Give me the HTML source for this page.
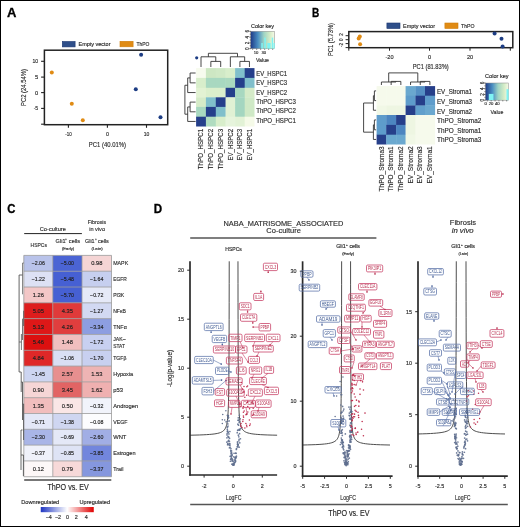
<!DOCTYPE html>
<html><head><meta charset="utf-8"><style>
html,body{margin:0;padding:0;background:#fff;}
svg{display:block;will-change:transform;}
text{font-family:"Liberation Sans", sans-serif;}
</style></head><body>
<svg width="520" height="527" viewBox="0 0 520 527">
<rect x="0" y="0" width="520" height="527" fill="#fff"/>
<text x="6.90" y="17.00" font-size="12.29" font-weight="bold" fill="#000" stroke="#000" stroke-width="0.3" textLength="9.40" lengthAdjust="spacingAndGlyphs">A</text>
<text x="312.10" y="17.00" font-size="11.93" font-weight="bold" fill="#000" stroke="#000" stroke-width="0.3" textLength="7.30" lengthAdjust="spacingAndGlyphs">B</text>
<text x="7.20" y="212.90" font-size="11.86" font-weight="bold" fill="#000" stroke="#000" stroke-width="0.3" textLength="8.20" lengthAdjust="spacingAndGlyphs">C</text>
<text x="153.80" y="212.90" font-size="12.14" font-weight="bold" fill="#000" stroke="#000" stroke-width="0.3" textLength="8.40" lengthAdjust="spacingAndGlyphs">D</text>
<rect x="62.30" y="41.50" width="12.80" height="5.40" fill="#2f4f8a" stroke="#1b3670" stroke-width="0.6"/>
<text x="78.50" y="46.02" font-size="5.2" fill="#2b2b2b" textLength="32.00" lengthAdjust="spacingAndGlyphs" stroke="#2b2b2b" stroke-width="0.15">Empty vector</text>
<rect x="120.00" y="41.30" width="13.10" height="5.50" fill="#e08b14" stroke="#d07e0a" stroke-width="0.6"/>
<text x="136.50" y="45.82" font-size="5.2" fill="#2b2b2b" textLength="13.00" lengthAdjust="spacingAndGlyphs" stroke="#2b2b2b" stroke-width="0.15">ThPO</text>
<rect x="44.40" y="50.20" width="123.30" height="74.50" fill="none" stroke="#222" stroke-width="1.5"/>
<line x1="41.10" y1="61.30" x2="44.40" y2="61.30" stroke="#222" stroke-width="1.1"/>
<text x="32.50" y="63.26" font-size="5.6" fill="#2b2b2b" textLength="5.70" lengthAdjust="spacingAndGlyphs" stroke="#2b2b2b" stroke-width="0.15">10</text>
<line x1="41.10" y1="77.10" x2="44.40" y2="77.10" stroke="#222" stroke-width="1.1"/>
<text x="35.00" y="79.06" font-size="5.6" fill="#2b2b2b" textLength="3.20" lengthAdjust="spacingAndGlyphs" stroke="#2b2b2b" stroke-width="0.15">5</text>
<line x1="41.10" y1="92.60" x2="44.40" y2="92.60" stroke="#222" stroke-width="1.1"/>
<text x="35.00" y="94.56" font-size="5.6" fill="#2b2b2b" textLength="3.20" lengthAdjust="spacingAndGlyphs" stroke="#2b2b2b" stroke-width="0.15">0</text>
<line x1="41.10" y1="108.40" x2="44.40" y2="108.40" stroke="#222" stroke-width="1.1"/>
<text x="33.70" y="110.36" font-size="5.6" fill="#2b2b2b" textLength="4.50" lengthAdjust="spacingAndGlyphs" stroke="#2b2b2b" stroke-width="0.15">-5</text>
<line x1="41.10" y1="124.20" x2="44.40" y2="124.20" stroke="#222" stroke-width="1.1"/>
<line x1="68.40" y1="124.70" x2="68.40" y2="127.80" stroke="#222" stroke-width="1.1"/>
<text x="65.15" y="135.76" font-size="5.6" fill="#2b2b2b" textLength="6.50" lengthAdjust="spacingAndGlyphs" stroke="#2b2b2b" stroke-width="0.15">-10</text>
<line x1="107.40" y1="124.70" x2="107.40" y2="127.80" stroke="#222" stroke-width="1.1"/>
<text x="105.90" y="135.76" font-size="5.6" fill="#2b2b2b" textLength="3.00" lengthAdjust="spacingAndGlyphs" stroke="#2b2b2b" stroke-width="0.15">0</text>
<line x1="146.50" y1="124.70" x2="146.50" y2="127.80" stroke="#222" stroke-width="1.1"/>
<text x="143.70" y="135.76" font-size="5.6" fill="#2b2b2b" textLength="5.60" lengthAdjust="spacingAndGlyphs" stroke="#2b2b2b" stroke-width="0.15">10</text>
<text x="88.80" y="146.52" font-size="7.2" fill="#2b2b2b" textLength="37.20" lengthAdjust="spacingAndGlyphs" stroke="#2b2b2b" stroke-width="0.15">PC1 (40.01%)</text>
<text x="0" y="2.52" font-size="7.2" fill="#2b2b2b" text-anchor="middle" textLength="37.00" lengthAdjust="spacingAndGlyphs" stroke="#2b2b2b" stroke-width="0.15" transform="translate(23.30 87.50) rotate(-90)">PC2 (24.54%)</text>
<circle cx="51.80" cy="72.40" r="2.0" fill="#e08b14"/>
<circle cx="71.80" cy="103.80" r="2.0" fill="#e08b14"/>
<circle cx="82.80" cy="120.20" r="2.0" fill="#e08b14"/>
<circle cx="141.10" cy="54.70" r="2.0" fill="#1d3d84"/>
<circle cx="135.80" cy="89.20" r="2.0" fill="#1d3d84"/>
<circle cx="160.50" cy="117.30" r="2.0" fill="#1d3d84"/>
<rect x="196.10" y="68.10" width="10.10" height="10.10" fill="#f7fbee"/>
<rect x="205.90" y="68.10" width="10.20" height="10.10" fill="#cde7c3"/>
<rect x="215.80" y="68.10" width="10.10" height="10.10" fill="#d0e9c6"/>
<rect x="225.60" y="68.10" width="9.80" height="10.10" fill="#d8eecb"/>
<rect x="235.10" y="68.10" width="9.90" height="10.10" fill="#80bfcb"/>
<rect x="244.70" y="68.10" width="9.80" height="10.10" fill="#253f8b"/>
<rect x="196.10" y="77.90" width="10.10" height="10.20" fill="#d8eecb"/>
<rect x="205.90" y="77.90" width="10.20" height="10.20" fill="#a8d8c0"/>
<rect x="215.80" y="77.90" width="10.10" height="10.20" fill="#a8d8c0"/>
<rect x="225.60" y="77.90" width="9.80" height="10.20" fill="#abd9bf"/>
<rect x="235.10" y="77.90" width="9.90" height="10.20" fill="#253f8b"/>
<rect x="244.70" y="77.90" width="9.80" height="10.20" fill="#80bfcb"/>
<rect x="196.10" y="87.80" width="10.10" height="9.80" fill="#e2f2d3"/>
<rect x="205.90" y="87.80" width="10.20" height="9.80" fill="#dbefcc"/>
<rect x="215.80" y="87.80" width="10.10" height="9.80" fill="#dbefcc"/>
<rect x="225.60" y="87.80" width="9.80" height="9.80" fill="#253f8b"/>
<rect x="235.10" y="87.80" width="9.90" height="9.80" fill="#a8d8c0"/>
<rect x="244.70" y="87.80" width="9.80" height="9.80" fill="#d5ebc8"/>
<rect x="196.10" y="97.30" width="10.10" height="9.90" fill="#d5ebc8"/>
<rect x="205.90" y="97.30" width="10.20" height="9.90" fill="#80bfcb"/>
<rect x="215.80" y="97.30" width="10.10" height="9.90" fill="#253f8b"/>
<rect x="225.60" y="97.30" width="9.80" height="9.90" fill="#e0f1d4"/>
<rect x="235.10" y="97.30" width="9.90" height="9.90" fill="#a4d6c0"/>
<rect x="244.70" y="97.30" width="9.80" height="9.90" fill="#cfe9c6"/>
<rect x="196.10" y="106.90" width="10.10" height="10.10" fill="#a8d8c0"/>
<rect x="205.90" y="106.90" width="10.20" height="10.10" fill="#253f8b"/>
<rect x="215.80" y="106.90" width="10.10" height="10.10" fill="#80bfcb"/>
<rect x="225.60" y="106.90" width="9.80" height="10.10" fill="#e0f1d4"/>
<rect x="235.10" y="106.90" width="9.90" height="10.10" fill="#a4d6c0"/>
<rect x="244.70" y="106.90" width="9.80" height="10.10" fill="#cfe9c6"/>
<rect x="196.10" y="116.70" width="10.10" height="9.80" fill="#253f8b"/>
<rect x="205.90" y="116.70" width="10.20" height="9.80" fill="#b0dcc0"/>
<rect x="215.80" y="116.70" width="10.10" height="9.80" fill="#d8eecb"/>
<rect x="225.60" y="116.70" width="9.80" height="9.80" fill="#e6f4dc"/>
<rect x="235.10" y="116.70" width="9.90" height="9.80" fill="#e2f2d6"/>
<rect x="244.70" y="116.70" width="9.80" height="9.80" fill="#f5fae8"/>
<path d="M210.85 67.0 V61.4 H220.70 V67.0" stroke="#333" stroke-width="0.9" fill="none"/>
<path d="M239.90 67.0 V61.4 H249.45 V67.0" stroke="#333" stroke-width="0.9" fill="none"/>
<path d="M201.00 67.0 V56.8 H215.78 V61.4" stroke="#333" stroke-width="0.9" fill="none"/>
<path d="M230.35 67.0 V56.8 H244.67 V61.4" stroke="#333" stroke-width="0.9" fill="none"/>
<path d="M208.39 56.8 V53.3 H237.51 V56.8" stroke="#333" stroke-width="0.9" fill="none"/>
<path d="M195.6 73.00 H190.1 V82.85 H195.6" stroke="#333" stroke-width="0.9" fill="none"/>
<path d="M195.6 102.10 H190.1 V111.80 H195.6" stroke="#333" stroke-width="0.9" fill="none"/>
<path d="M190.1 77.92 H187.7 V92.55 H195.6" stroke="#333" stroke-width="0.9" fill="none"/>
<path d="M190.1 106.95 H187.7 V121.45 H195.6" stroke="#333" stroke-width="0.9" fill="none"/>
<path d="M187.7 85.24 H184.9 V114.20 H187.7" stroke="#333" stroke-width="0.9" fill="none"/>
<circle cx="196.70" cy="57.80" r="1.6" fill="#1d3d84"/>
<text x="256.20" y="75.50" font-size="6.3" fill="#2b2b2b" textLength="30.90" lengthAdjust="spacingAndGlyphs" stroke="#2b2b2b" stroke-width="0.15">EV_HSPC1</text>
<text x="256.20" y="85.00" font-size="6.3" fill="#2b2b2b" textLength="30.90" lengthAdjust="spacingAndGlyphs" stroke="#2b2b2b" stroke-width="0.15">EV_HSPC3</text>
<text x="256.20" y="94.50" font-size="6.3" fill="#2b2b2b" textLength="30.90" lengthAdjust="spacingAndGlyphs" stroke="#2b2b2b" stroke-width="0.15">EV_HSPC2</text>
<text x="256.20" y="104.00" font-size="6.3" fill="#2b2b2b" textLength="39.60" lengthAdjust="spacingAndGlyphs" stroke="#2b2b2b" stroke-width="0.15">ThPO_HSPC3</text>
<text x="256.20" y="113.30" font-size="6.3" fill="#2b2b2b" textLength="39.60" lengthAdjust="spacingAndGlyphs" stroke="#2b2b2b" stroke-width="0.15">ThPO_HSPC2</text>
<text x="256.20" y="123.00" font-size="6.3" fill="#2b2b2b" textLength="39.60" lengthAdjust="spacingAndGlyphs" stroke="#2b2b2b" stroke-width="0.15">ThPO_HSPC1</text>
<text x="0" y="2.20" font-size="6.3" fill="#2b2b2b" text-anchor="middle" textLength="40.30" lengthAdjust="spacingAndGlyphs" stroke="#2b2b2b" stroke-width="0.15" transform="translate(201.00 149.05) rotate(-90)">ThPO_HSPC1</text>
<text x="0" y="2.20" font-size="6.3" fill="#2b2b2b" text-anchor="middle" textLength="40.30" lengthAdjust="spacingAndGlyphs" stroke="#2b2b2b" stroke-width="0.15" transform="translate(210.85 149.05) rotate(-90)">ThPO_HSPC2</text>
<text x="0" y="2.20" font-size="6.3" fill="#2b2b2b" text-anchor="middle" textLength="40.30" lengthAdjust="spacingAndGlyphs" stroke="#2b2b2b" stroke-width="0.15" transform="translate(220.70 149.05) rotate(-90)">ThPO_HSPC3</text>
<text x="0" y="2.20" font-size="6.3" fill="#2b2b2b" text-anchor="middle" textLength="31.60" lengthAdjust="spacingAndGlyphs" stroke="#2b2b2b" stroke-width="0.15" transform="translate(230.35 144.70) rotate(-90)">EV_HSPC2</text>
<text x="0" y="2.20" font-size="6.3" fill="#2b2b2b" text-anchor="middle" textLength="31.60" lengthAdjust="spacingAndGlyphs" stroke="#2b2b2b" stroke-width="0.15" transform="translate(239.90 144.70) rotate(-90)">EV_HSPC3</text>
<text x="0" y="2.20" font-size="6.3" fill="#2b2b2b" text-anchor="middle" textLength="31.60" lengthAdjust="spacingAndGlyphs" stroke="#2b2b2b" stroke-width="0.15" transform="translate(249.45 144.70) rotate(-90)">EV_HSPC1</text>
<defs><linearGradient id="g250" x1="0" x2="1" y1="0" y2="0"><stop offset="0" stop-color="#1e3a86"/><stop offset="0.3" stop-color="#4a8ec2"/><stop offset="0.55" stop-color="#9fd4c4"/><stop offset="0.8" stop-color="#d4ecc6"/><stop offset="1" stop-color="#f7fbe8"/></linearGradient></defs>
<rect x="250.70" y="31.30" width="24.00" height="17.40" fill="url(#g250)" stroke="#888" stroke-width="0.5"/>
<rect x="261.30" y="43.00" width="1.50" height="5.70" fill="#7ff3f3"/>
<rect x="264.30" y="37.60" width="1.50" height="11.10" fill="#7ff3f3"/>
<rect x="267.30" y="43.00" width="3.30" height="5.70" fill="#7ff3f3"/>
<rect x="271.70" y="37.60" width="1.50" height="11.10" fill="#7ff3f3"/>
<rect x="273.50" y="43.00" width="1.20" height="5.70" fill="#7ff3f3"/>
<line x1="249.30" y1="48.70" x2="250.70" y2="48.70" stroke="#222" stroke-width="0.7"/>
<line x1="249.80" y1="45.80" x2="250.70" y2="45.80" stroke="#222" stroke-width="0.7"/>
<line x1="249.30" y1="42.90" x2="250.70" y2="42.90" stroke="#222" stroke-width="0.7"/>
<line x1="249.80" y1="40.00" x2="250.70" y2="40.00" stroke="#222" stroke-width="0.7"/>
<line x1="249.30" y1="37.10" x2="250.70" y2="37.10" stroke="#222" stroke-width="0.7"/>
<line x1="249.80" y1="34.20" x2="250.70" y2="34.20" stroke="#222" stroke-width="0.7"/>
<line x1="249.30" y1="31.30" x2="250.70" y2="31.30" stroke="#222" stroke-width="0.7"/>
<text x="0" y="1.61" font-size="4.6" fill="#2b2b2b" text-anchor="middle" stroke="#2b2b2b" stroke-width="0.15" transform="translate(247.80 48.70) rotate(-90)">0</text>
<text x="0" y="1.61" font-size="4.6" fill="#2b2b2b" text-anchor="middle" stroke="#2b2b2b" stroke-width="0.15" transform="translate(247.80 42.90) rotate(-90)">2</text>
<text x="0" y="1.61" font-size="4.6" fill="#2b2b2b" text-anchor="middle" stroke="#2b2b2b" stroke-width="0.15" transform="translate(247.80 37.10) rotate(-90)">4</text>
<text x="0" y="1.61" font-size="4.6" fill="#2b2b2b" text-anchor="middle" stroke="#2b2b2b" stroke-width="0.15" transform="translate(247.80 31.30) rotate(-90)">6</text>
<line x1="252.70" y1="48.70" x2="252.70" y2="49.90" stroke="#333" stroke-width="0.6"/>
<line x1="256.70" y1="48.70" x2="256.70" y2="49.90" stroke="#333" stroke-width="0.6"/>
<line x1="260.70" y1="48.70" x2="260.70" y2="49.90" stroke="#333" stroke-width="0.6"/>
<line x1="264.70" y1="48.70" x2="264.70" y2="49.90" stroke="#333" stroke-width="0.6"/>
<line x1="268.70" y1="48.70" x2="268.70" y2="49.90" stroke="#333" stroke-width="0.6"/>
<line x1="272.70" y1="48.70" x2="272.70" y2="49.90" stroke="#333" stroke-width="0.6"/>
<text x="256.00" y="53.90" font-size="4.2" fill="#2b2b2b" text-anchor="middle" stroke="#2b2b2b" stroke-width="0.15">10</text>
<text x="263.80" y="53.90" font-size="4.2" fill="#2b2b2b" text-anchor="middle" stroke="#2b2b2b" stroke-width="0.15">30</text>
<text x="256.00" y="62.36" font-size="5.6" fill="#2b2b2b" textLength="13.00" lengthAdjust="spacingAndGlyphs" stroke="#2b2b2b" stroke-width="0.15">Value</text>
<text x="251.00" y="27.55" font-size="5.0" fill="#2b2b2b" textLength="23.00" lengthAdjust="spacingAndGlyphs" stroke="#2b2b2b" stroke-width="0.15">Color key</text>
<rect x="386.90" y="23.00" width="13.10" height="5.50" fill="#2f4f8a" stroke="#1b3670" stroke-width="0.6"/>
<text x="403.00" y="27.52" font-size="5.2" fill="#2b2b2b" textLength="32.00" lengthAdjust="spacingAndGlyphs" stroke="#2b2b2b" stroke-width="0.15">Empty vector</text>
<rect x="444.90" y="23.00" width="13.10" height="5.50" fill="#e08b14" stroke="#d07e0a" stroke-width="0.6"/>
<text x="461.00" y="27.52" font-size="5.2" fill="#2b2b2b" textLength="13.60" lengthAdjust="spacingAndGlyphs" stroke="#2b2b2b" stroke-width="0.15">ThPO</text>
<rect x="348.80" y="31.60" width="164.00" height="16.10" fill="none" stroke="#222" stroke-width="1.5"/>
<line x1="345.60" y1="35.70" x2="348.80" y2="35.70" stroke="#222" stroke-width="1.0"/>
<line x1="345.60" y1="39.70" x2="348.80" y2="39.70" stroke="#222" stroke-width="1.0"/>
<line x1="345.60" y1="43.60" x2="348.80" y2="43.60" stroke="#222" stroke-width="1.0"/>
<line x1="345.60" y1="47.60" x2="348.80" y2="47.60" stroke="#222" stroke-width="1.0"/>
<text x="0" y="1.57" font-size="4.5" fill="#2b2b2b" text-anchor="middle" stroke="#2b2b2b" stroke-width="0.15" transform="translate(341.00 34.40) rotate(-90)">2</text>
<text x="0" y="1.57" font-size="4.5" fill="#2b2b2b" text-anchor="middle" stroke="#2b2b2b" stroke-width="0.15" transform="translate(341.00 39.70) rotate(-90)">0</text>
<text x="0" y="1.57" font-size="4.5" fill="#2b2b2b" text-anchor="middle" stroke="#2b2b2b" stroke-width="0.15" transform="translate(341.00 45.00) rotate(-90)">-2</text>
<line x1="348.80" y1="47.70" x2="348.80" y2="50.70" stroke="#222" stroke-width="1.0"/>
<line x1="389.50" y1="47.70" x2="389.50" y2="50.70" stroke="#222" stroke-width="1.0"/>
<text x="389.50" y="58.80" font-size="5.6" fill="#2b2b2b" text-anchor="middle" stroke="#2b2b2b" stroke-width="0.15">-20</text>
<line x1="429.50" y1="47.70" x2="429.50" y2="50.70" stroke="#222" stroke-width="1.0"/>
<text x="429.50" y="58.80" font-size="5.6" fill="#2b2b2b" text-anchor="middle" stroke="#2b2b2b" stroke-width="0.15">0</text>
<line x1="470.00" y1="47.70" x2="470.00" y2="50.70" stroke="#222" stroke-width="1.0"/>
<text x="470.00" y="58.80" font-size="5.6" fill="#2b2b2b" text-anchor="middle" stroke="#2b2b2b" stroke-width="0.15">20</text>
<line x1="510.30" y1="47.70" x2="510.30" y2="50.70" stroke="#222" stroke-width="1.0"/>
<text x="412.70" y="69.22" font-size="7.2" fill="#2b2b2b" textLength="36.10" lengthAdjust="spacingAndGlyphs" stroke="#2b2b2b" stroke-width="0.15">PC1 (81.83%)</text>
<text x="0" y="2.52" font-size="7.2" fill="#2b2b2b" text-anchor="middle" textLength="33.00" lengthAdjust="spacingAndGlyphs" stroke="#2b2b2b" stroke-width="0.15" transform="translate(330.20 39.50) rotate(-90)">PC1 (5.73%)</text>
<circle cx="359.80" cy="36.50" r="2.0" fill="#e08b14"/>
<circle cx="358.70" cy="38.60" r="2.0" fill="#e08b14"/>
<circle cx="360.10" cy="44.30" r="2.0" fill="#e08b14"/>
<circle cx="494.60" cy="33.50" r="2.0" fill="#1d3d84"/>
<circle cx="501.50" cy="38.80" r="2.0" fill="#1d3d84"/>
<circle cx="502.60" cy="46.50" r="2.0" fill="#1d3d84"/>
<rect x="376.60" y="86.10" width="9.90" height="9.90" fill="#f6faec"/>
<rect x="386.20" y="86.10" width="10.20" height="9.90" fill="#f6faec"/>
<rect x="396.10" y="86.10" width="9.80" height="9.90" fill="#f6faec"/>
<rect x="405.60" y="86.10" width="10.20" height="9.90" fill="#6aa8cf"/>
<rect x="415.50" y="86.10" width="9.80" height="9.90" fill="#5590c4"/>
<rect x="425.00" y="86.10" width="10.10" height="9.90" fill="#263f8a"/>
<rect x="376.60" y="95.70" width="9.90" height="10.10" fill="#f6faec"/>
<rect x="386.20" y="95.70" width="10.20" height="10.10" fill="#f6faec"/>
<rect x="396.10" y="95.70" width="9.80" height="10.10" fill="#f6faec"/>
<rect x="405.60" y="95.70" width="10.20" height="10.10" fill="#5e9ccb"/>
<rect x="415.50" y="95.70" width="9.80" height="10.10" fill="#263f8a"/>
<rect x="425.00" y="95.70" width="10.10" height="10.10" fill="#5e9ccb"/>
<rect x="376.60" y="105.50" width="9.90" height="9.80" fill="#f1f8e6"/>
<rect x="386.20" y="105.50" width="10.20" height="9.80" fill="#eef6e2"/>
<rect x="396.10" y="105.50" width="9.80" height="9.80" fill="#eef6e2"/>
<rect x="405.60" y="105.50" width="10.20" height="9.80" fill="#263f8a"/>
<rect x="415.50" y="105.50" width="9.80" height="9.80" fill="#619fcc"/>
<rect x="425.00" y="105.50" width="10.10" height="9.80" fill="#6aa8cf"/>
<rect x="376.60" y="115.00" width="9.90" height="10.20" fill="#5e9ccb"/>
<rect x="386.20" y="115.00" width="10.20" height="10.20" fill="#4c85c0"/>
<rect x="396.10" y="115.00" width="9.80" height="10.20" fill="#263f8a"/>
<rect x="405.60" y="115.00" width="10.20" height="10.20" fill="#eef6e2"/>
<rect x="415.50" y="115.00" width="9.80" height="10.20" fill="#f6faec"/>
<rect x="425.00" y="115.00" width="10.10" height="10.20" fill="#f6faec"/>
<rect x="376.60" y="124.90" width="9.90" height="10.10" fill="#5e9ccb"/>
<rect x="386.20" y="124.90" width="10.20" height="10.10" fill="#263f8a"/>
<rect x="396.10" y="124.90" width="9.80" height="10.10" fill="#4c85c0"/>
<rect x="405.60" y="124.90" width="10.20" height="10.10" fill="#eef6e2"/>
<rect x="415.50" y="124.90" width="9.80" height="10.10" fill="#f6faec"/>
<rect x="425.00" y="124.90" width="10.10" height="10.10" fill="#f6faec"/>
<rect x="376.60" y="134.70" width="9.90" height="9.80" fill="#263f8a"/>
<rect x="386.20" y="134.70" width="10.20" height="9.80" fill="#6aa8cf"/>
<rect x="396.10" y="134.70" width="9.80" height="9.80" fill="#6aa8cf"/>
<rect x="405.60" y="134.70" width="10.20" height="9.80" fill="#f1f8e6"/>
<rect x="415.50" y="134.70" width="9.80" height="9.80" fill="#f6faec"/>
<rect x="425.00" y="134.70" width="10.10" height="9.80" fill="#f6faec"/>
<path d="M391.15 85.0 V81.4 H400.85 V85.0" stroke="#333" stroke-width="0.9" fill="none"/>
<path d="M420.25 85.0 V81.4 H429.90 V85.0" stroke="#333" stroke-width="0.9" fill="none"/>
<path d="M381.40 85.0 V82.0 H396.00 V81.4" stroke="#333" stroke-width="0.9" fill="none"/>
<path d="M410.55 85.0 V82.0 H425.07 V81.4" stroke="#333" stroke-width="0.9" fill="none"/>
<path d="M388.70 82.0 V72.9 H417.81 V82.0" stroke="#333" stroke-width="0.9" fill="none"/>
<path d="M376.1 90.90 H374.4 V100.60 H376.1" stroke="#333" stroke-width="0.9" fill="none"/>
<path d="M376.1 119.95 H374.4 V129.80 H376.1" stroke="#333" stroke-width="0.9" fill="none"/>
<path d="M376.1 110.25 H373.4 V95.75 H374.4" stroke="#333" stroke-width="0.9" fill="none"/>
<path d="M376.1 139.45 H373.4 V124.88 H374.4" stroke="#333" stroke-width="0.9" fill="none"/>
<path d="M373.4 103.00 H363.6 V132.16 H373.4" stroke="#333" stroke-width="0.9" fill="none"/>
<text x="437.00" y="94.20" font-size="6.3" fill="#2b2b2b" textLength="35.00" lengthAdjust="spacingAndGlyphs" stroke="#2b2b2b" stroke-width="0.15">EV_Stroma1</text>
<text x="437.00" y="104.20" font-size="6.3" fill="#2b2b2b" textLength="35.00" lengthAdjust="spacingAndGlyphs" stroke="#2b2b2b" stroke-width="0.15">EV_Stroma3</text>
<text x="437.00" y="114.20" font-size="6.3" fill="#2b2b2b" textLength="35.00" lengthAdjust="spacingAndGlyphs" stroke="#2b2b2b" stroke-width="0.15">EV_Stroma2</text>
<text x="437.00" y="123.45" font-size="6.3" fill="#2b2b2b" textLength="44.25" lengthAdjust="spacingAndGlyphs" stroke="#2b2b2b" stroke-width="0.15">ThPO_Stroma2</text>
<text x="437.00" y="132.96" font-size="6.3" fill="#2b2b2b" textLength="44.25" lengthAdjust="spacingAndGlyphs" stroke="#2b2b2b" stroke-width="0.15">ThPO_Stroma1</text>
<text x="437.00" y="142.21" font-size="6.3" fill="#2b2b2b" textLength="44.25" lengthAdjust="spacingAndGlyphs" stroke="#2b2b2b" stroke-width="0.15">ThPO_Stroma3</text>
<text x="0" y="2.20" font-size="6.3" fill="#2b2b2b" text-anchor="middle" textLength="45.10" lengthAdjust="spacingAndGlyphs" stroke="#2b2b2b" stroke-width="0.15" transform="translate(381.40 168.85) rotate(-90)">ThPO_Stroma3</text>
<text x="0" y="2.20" font-size="6.3" fill="#2b2b2b" text-anchor="middle" textLength="45.10" lengthAdjust="spacingAndGlyphs" stroke="#2b2b2b" stroke-width="0.15" transform="translate(391.15 168.85) rotate(-90)">ThPO_Stroma1</text>
<text x="0" y="2.20" font-size="6.3" fill="#2b2b2b" text-anchor="middle" textLength="45.10" lengthAdjust="spacingAndGlyphs" stroke="#2b2b2b" stroke-width="0.15" transform="translate(400.85 168.85) rotate(-90)">ThPO_Stroma2</text>
<text x="0" y="2.20" font-size="6.3" fill="#2b2b2b" text-anchor="middle" textLength="37.30" lengthAdjust="spacingAndGlyphs" stroke="#2b2b2b" stroke-width="0.15" transform="translate(410.55 164.95) rotate(-90)">EV_Stroma2</text>
<text x="0" y="2.20" font-size="6.3" fill="#2b2b2b" text-anchor="middle" textLength="37.30" lengthAdjust="spacingAndGlyphs" stroke="#2b2b2b" stroke-width="0.15" transform="translate(420.25 164.95) rotate(-90)">EV_Stroma3</text>
<text x="0" y="2.20" font-size="6.3" fill="#2b2b2b" text-anchor="middle" textLength="37.30" lengthAdjust="spacingAndGlyphs" stroke="#2b2b2b" stroke-width="0.15" transform="translate(429.90 164.95) rotate(-90)">EV_Stroma1</text>
<defs><linearGradient id="g485" x1="0" x2="1" y1="0" y2="0"><stop offset="0" stop-color="#1e3a86"/><stop offset="0.3" stop-color="#4a8ec2"/><stop offset="0.55" stop-color="#9fd4c4"/><stop offset="0.8" stop-color="#d4ecc6"/><stop offset="1" stop-color="#f7fbe8"/></linearGradient></defs>
<rect x="485.40" y="83.00" width="23.20" height="17.20" fill="url(#g485)" stroke="#888" stroke-width="0.5"/>
<rect x="488.80" y="93.90" width="4.70" height="6.30" fill="#7ff3f3"/>
<rect x="506.50" y="89.20" width="2.10" height="11.00" fill="#7ff3f3"/>
<line x1="484.00" y1="100.20" x2="485.40" y2="100.20" stroke="#222" stroke-width="0.7"/>
<line x1="484.50" y1="97.33" x2="485.40" y2="97.33" stroke="#222" stroke-width="0.7"/>
<line x1="484.00" y1="94.47" x2="485.40" y2="94.47" stroke="#222" stroke-width="0.7"/>
<line x1="484.50" y1="91.60" x2="485.40" y2="91.60" stroke="#222" stroke-width="0.7"/>
<line x1="484.00" y1="88.73" x2="485.40" y2="88.73" stroke="#222" stroke-width="0.7"/>
<line x1="484.50" y1="85.87" x2="485.40" y2="85.87" stroke="#222" stroke-width="0.7"/>
<line x1="484.00" y1="83.00" x2="485.40" y2="83.00" stroke="#222" stroke-width="0.7"/>
<text x="0" y="1.61" font-size="4.6" fill="#2b2b2b" text-anchor="middle" stroke="#2b2b2b" stroke-width="0.15" transform="translate(482.30 100.20) rotate(-90)">0</text>
<text x="0" y="1.61" font-size="4.6" fill="#2b2b2b" text-anchor="middle" stroke="#2b2b2b" stroke-width="0.15" transform="translate(482.30 94.47) rotate(-90)">2</text>
<text x="0" y="1.61" font-size="4.6" fill="#2b2b2b" text-anchor="middle" stroke="#2b2b2b" stroke-width="0.15" transform="translate(482.30 88.73) rotate(-90)">4</text>
<text x="0" y="1.61" font-size="4.6" fill="#2b2b2b" text-anchor="middle" stroke="#2b2b2b" stroke-width="0.15" transform="translate(482.30 83.00) rotate(-90)">6</text>
<line x1="487.33" y1="100.20" x2="487.33" y2="101.40" stroke="#333" stroke-width="0.6"/>
<line x1="491.20" y1="100.20" x2="491.20" y2="101.40" stroke="#333" stroke-width="0.6"/>
<line x1="495.07" y1="100.20" x2="495.07" y2="101.40" stroke="#333" stroke-width="0.6"/>
<line x1="498.93" y1="100.20" x2="498.93" y2="101.40" stroke="#333" stroke-width="0.6"/>
<line x1="502.80" y1="100.20" x2="502.80" y2="101.40" stroke="#333" stroke-width="0.6"/>
<line x1="506.67" y1="100.20" x2="506.67" y2="101.40" stroke="#333" stroke-width="0.6"/>
<text x="485.60" y="105.40" font-size="4.2" fill="#2b2b2b" text-anchor="middle" stroke="#2b2b2b" stroke-width="0.15">0</text>
<text x="491.00" y="105.40" font-size="4.2" fill="#2b2b2b" text-anchor="middle" stroke="#2b2b2b" stroke-width="0.15">20</text>
<text x="497.30" y="105.40" font-size="4.2" fill="#2b2b2b" text-anchor="middle" stroke="#2b2b2b" stroke-width="0.15">40</text>
<text x="490.40" y="113.86" font-size="5.6" fill="#2b2b2b" textLength="13.00" lengthAdjust="spacingAndGlyphs" stroke="#2b2b2b" stroke-width="0.15">Value</text>
<text x="485.10" y="77.95" font-size="5.0" fill="#2b2b2b" textLength="23.50" lengthAdjust="spacingAndGlyphs" stroke="#2b2b2b" stroke-width="0.15">Color key</text>
<text x="39.80" y="230.94" font-size="6.2" fill="#2b2b2b" textLength="26.00" lengthAdjust="spacingAndGlyphs" stroke="#2b2b2b" stroke-width="0.15">Co-culture</text>
<line x1="24.20" y1="233.60" x2="81.90" y2="233.60" stroke="#222" stroke-width="1.0"/>
<text x="87.70" y="223.95" font-size="6.2" fill="#2b2b2b" textLength="18.50" lengthAdjust="spacingAndGlyphs" stroke="#2b2b2b" stroke-width="0.15">Fibrosis</text>
<text x="89.20" y="231.06" font-size="6.2" fill="#2b2b2b" textLength="15.80" lengthAdjust="spacingAndGlyphs" stroke="#2b2b2b" stroke-width="0.15">in vivo</text>
<text x="30.60" y="246.70" font-size="6.0" fill="#2b2b2b" textLength="16.30" lengthAdjust="spacingAndGlyphs" stroke="#2b2b2b" stroke-width="0.15">HSPCs</text>
<text x="55.60" y="242.90" font-size="6.0" fill="#2b2b2b" textLength="24.40" lengthAdjust="spacingAndGlyphs" stroke="#2b2b2b" stroke-width="0.15">Gli1⁺ cells</text>
<text x="61.90" y="250.14" font-size="3.8" fill="#2b2b2b" textLength="12.30" lengthAdjust="spacingAndGlyphs" stroke="#2b2b2b" stroke-width="0.15">(Early)</text>
<text x="85.00" y="242.90" font-size="6.0" fill="#2b2b2b" textLength="23.80" lengthAdjust="spacingAndGlyphs" stroke="#2b2b2b" stroke-width="0.15">Gli1⁺ cells</text>
<text x="91.50" y="250.14" font-size="3.8" fill="#2b2b2b" textLength="11.20" lengthAdjust="spacingAndGlyphs" stroke="#2b2b2b" stroke-width="0.15">(Late)</text>
<rect x="23.80" y="255.40" width="29.00" height="15.81" fill="#b9c3ea"/>
<text x="38.30" y="265.41" font-size="6.0" fill="#222" text-anchor="middle" textLength="13.30" lengthAdjust="spacingAndGlyphs" stroke="#222" stroke-width="0.15">−2.06</text>
<rect x="52.80" y="255.40" width="29.20" height="15.81" fill="#4b64d4"/>
<text x="67.40" y="265.41" font-size="6.0" fill="#222" text-anchor="middle" textLength="13.30" lengthAdjust="spacingAndGlyphs" stroke="#222" stroke-width="0.15">−5.00</text>
<rect x="82.00" y="255.40" width="29.50" height="15.81" fill="#f5d5d5"/>
<text x="96.75" y="265.41" font-size="6.0" fill="#222" text-anchor="middle" textLength="11.20" lengthAdjust="spacingAndGlyphs" stroke="#222" stroke-width="0.15">0.98</text>
<text x="113.20" y="265.41" font-size="6.0" fill="#2b2b2b" textLength="15.00" lengthAdjust="spacingAndGlyphs" stroke="#2b2b2b" stroke-width="0.15">MAPK</text>
<rect x="23.80" y="271.21" width="29.00" height="15.81" fill="#dde1f4"/>
<text x="38.30" y="281.21" font-size="6.0" fill="#222" text-anchor="middle" textLength="13.30" lengthAdjust="spacingAndGlyphs" stroke="#222" stroke-width="0.15">−1.22</text>
<rect x="52.80" y="271.21" width="29.20" height="15.81" fill="#4660d3"/>
<text x="67.40" y="281.21" font-size="6.0" fill="#222" text-anchor="middle" textLength="13.30" lengthAdjust="spacingAndGlyphs" stroke="#222" stroke-width="0.15">−5.48</text>
<rect x="82.00" y="271.21" width="29.50" height="15.81" fill="#c6cfef"/>
<text x="96.75" y="281.21" font-size="6.0" fill="#222" text-anchor="middle" textLength="13.30" lengthAdjust="spacingAndGlyphs" stroke="#222" stroke-width="0.15">−1.64</text>
<text x="113.20" y="281.21" font-size="6.0" fill="#2b2b2b" textLength="13.60" lengthAdjust="spacingAndGlyphs" stroke="#2b2b2b" stroke-width="0.15">EGFR</text>
<rect x="23.80" y="287.02" width="29.00" height="15.81" fill="#f3c7c7"/>
<text x="38.30" y="297.02" font-size="6.0" fill="#222" text-anchor="middle" textLength="11.20" lengthAdjust="spacingAndGlyphs" stroke="#222" stroke-width="0.15">1.26</text>
<rect x="52.80" y="287.02" width="29.20" height="15.81" fill="#4660d3"/>
<text x="67.40" y="297.02" font-size="6.0" fill="#222" text-anchor="middle" textLength="13.30" lengthAdjust="spacingAndGlyphs" stroke="#222" stroke-width="0.15">−5.70</text>
<rect x="82.00" y="287.02" width="29.50" height="15.81" fill="#e5e9f7"/>
<text x="96.75" y="297.02" font-size="6.0" fill="#222" text-anchor="middle" textLength="13.30" lengthAdjust="spacingAndGlyphs" stroke="#222" stroke-width="0.15">−0.72</text>
<text x="113.20" y="297.02" font-size="6.0" fill="#2b2b2b" textLength="10.90" lengthAdjust="spacingAndGlyphs" stroke="#2b2b2b" stroke-width="0.15">PI3K</text>
<rect x="23.80" y="302.83" width="29.00" height="15.81" fill="#de1c1c"/>
<text x="38.30" y="312.83" font-size="6.0" fill="#222" text-anchor="middle" textLength="11.20" lengthAdjust="spacingAndGlyphs" stroke="#222" stroke-width="0.15">5.05</text>
<rect x="52.80" y="302.83" width="29.20" height="15.81" fill="#e03a3a"/>
<text x="67.40" y="312.83" font-size="6.0" fill="#222" text-anchor="middle" textLength="11.20" lengthAdjust="spacingAndGlyphs" stroke="#222" stroke-width="0.15">4.35</text>
<rect x="82.00" y="302.83" width="29.50" height="15.81" fill="#d2d9f2"/>
<text x="96.75" y="312.83" font-size="6.0" fill="#222" text-anchor="middle" textLength="13.30" lengthAdjust="spacingAndGlyphs" stroke="#222" stroke-width="0.15">−1.27</text>
<text x="113.20" y="312.83" font-size="6.0" fill="#2b2b2b" textLength="12.70" lengthAdjust="spacingAndGlyphs" stroke="#2b2b2b" stroke-width="0.15">NFκB</text>
<rect x="23.80" y="318.64" width="29.00" height="15.81" fill="#de1818"/>
<text x="38.30" y="328.64" font-size="6.0" fill="#222" text-anchor="middle" textLength="11.20" lengthAdjust="spacingAndGlyphs" stroke="#222" stroke-width="0.15">5.13</text>
<rect x="52.80" y="318.64" width="29.20" height="15.81" fill="#e03e3e"/>
<text x="67.40" y="328.64" font-size="6.0" fill="#222" text-anchor="middle" textLength="11.20" lengthAdjust="spacingAndGlyphs" stroke="#222" stroke-width="0.15">4.26</text>
<rect x="82.00" y="318.64" width="29.50" height="15.81" fill="#8d9ee1"/>
<text x="96.75" y="328.64" font-size="6.0" fill="#222" text-anchor="middle" textLength="13.30" lengthAdjust="spacingAndGlyphs" stroke="#222" stroke-width="0.15">−3.34</text>
<text x="113.20" y="328.64" font-size="6.0" fill="#2b2b2b" textLength="13.60" lengthAdjust="spacingAndGlyphs" stroke="#2b2b2b" stroke-width="0.15">TNFα</text>
<rect x="23.80" y="334.45" width="29.00" height="15.81" fill="#dc1010"/>
<text x="38.30" y="344.45" font-size="6.0" fill="#222" text-anchor="middle" textLength="11.20" lengthAdjust="spacingAndGlyphs" stroke="#222" stroke-width="0.15">5.46</text>
<rect x="52.80" y="334.45" width="29.20" height="15.81" fill="#f0bfbf"/>
<text x="67.40" y="344.45" font-size="6.0" fill="#222" text-anchor="middle" textLength="11.20" lengthAdjust="spacingAndGlyphs" stroke="#222" stroke-width="0.15">1.48</text>
<rect x="82.00" y="334.45" width="29.50" height="15.81" fill="#c8d0f0"/>
<text x="96.75" y="344.45" font-size="6.0" fill="#222" text-anchor="middle" textLength="13.30" lengthAdjust="spacingAndGlyphs" stroke="#222" stroke-width="0.15">−1.72</text>
<text x="113.20" y="341.35" font-size="6.0" fill="#2b2b2b" textLength="12.30" lengthAdjust="spacingAndGlyphs" stroke="#2b2b2b" stroke-width="0.15">JAK–</text>
<text x="113.20" y="347.65" font-size="6.0" fill="#2b2b2b" textLength="11.80" lengthAdjust="spacingAndGlyphs" stroke="#2b2b2b" stroke-width="0.15">STAT</text>
<rect x="23.80" y="350.26" width="29.00" height="15.81" fill="#df2828"/>
<text x="38.30" y="360.26" font-size="6.0" fill="#222" text-anchor="middle" textLength="11.20" lengthAdjust="spacingAndGlyphs" stroke="#222" stroke-width="0.15">4.84</text>
<rect x="52.80" y="350.26" width="29.20" height="15.81" fill="#d9dff4"/>
<text x="67.40" y="360.26" font-size="6.0" fill="#222" text-anchor="middle" textLength="13.30" lengthAdjust="spacingAndGlyphs" stroke="#222" stroke-width="0.15">−1.06</text>
<rect x="82.00" y="350.26" width="29.50" height="15.81" fill="#c8d0f0"/>
<text x="96.75" y="360.26" font-size="6.0" fill="#222" text-anchor="middle" textLength="13.30" lengthAdjust="spacingAndGlyphs" stroke="#222" stroke-width="0.15">−1.70</text>
<text x="113.20" y="360.26" font-size="6.0" fill="#2b2b2b" textLength="13.20" lengthAdjust="spacingAndGlyphs" stroke="#2b2b2b" stroke-width="0.15">TGFβ</text>
<rect x="23.80" y="366.07" width="29.00" height="15.81" fill="#cdd5f1"/>
<text x="38.30" y="376.07" font-size="6.0" fill="#222" text-anchor="middle" textLength="13.30" lengthAdjust="spacingAndGlyphs" stroke="#222" stroke-width="0.15">−1.45</text>
<rect x="52.80" y="366.07" width="29.20" height="15.81" fill="#e78f8f"/>
<text x="67.40" y="376.07" font-size="6.0" fill="#222" text-anchor="middle" textLength="11.20" lengthAdjust="spacingAndGlyphs" stroke="#222" stroke-width="0.15">2.57</text>
<rect x="82.00" y="366.07" width="29.50" height="15.81" fill="#eeb4b4"/>
<text x="96.75" y="376.07" font-size="6.0" fill="#222" text-anchor="middle" textLength="11.20" lengthAdjust="spacingAndGlyphs" stroke="#222" stroke-width="0.15">1.53</text>
<text x="113.20" y="376.07" font-size="6.0" fill="#2b2b2b" textLength="20.00" lengthAdjust="spacingAndGlyphs" stroke="#2b2b2b" stroke-width="0.15">Hypoxia</text>
<rect x="23.80" y="381.88" width="29.00" height="15.81" fill="#f6d6d6"/>
<text x="38.30" y="391.88" font-size="6.0" fill="#222" text-anchor="middle" textLength="11.20" lengthAdjust="spacingAndGlyphs" stroke="#222" stroke-width="0.15">0.90</text>
<rect x="52.80" y="381.88" width="29.20" height="15.81" fill="#e26464"/>
<text x="67.40" y="391.88" font-size="6.0" fill="#222" text-anchor="middle" textLength="11.20" lengthAdjust="spacingAndGlyphs" stroke="#222" stroke-width="0.15">3.45</text>
<rect x="82.00" y="381.88" width="29.50" height="15.81" fill="#efb0b0"/>
<text x="96.75" y="391.88" font-size="6.0" fill="#222" text-anchor="middle" textLength="11.20" lengthAdjust="spacingAndGlyphs" stroke="#222" stroke-width="0.15">1.62</text>
<text x="113.20" y="391.88" font-size="6.0" fill="#2b2b2b" textLength="9.80" lengthAdjust="spacingAndGlyphs" stroke="#2b2b2b" stroke-width="0.15">p53</text>
<rect x="23.80" y="397.69" width="29.00" height="15.81" fill="#f1bdbd"/>
<text x="38.30" y="407.69" font-size="6.0" fill="#222" text-anchor="middle" textLength="11.20" lengthAdjust="spacingAndGlyphs" stroke="#222" stroke-width="0.15">1.35</text>
<rect x="52.80" y="397.69" width="29.20" height="15.81" fill="#fae6e6"/>
<text x="67.40" y="407.69" font-size="6.0" fill="#222" text-anchor="middle" textLength="11.20" lengthAdjust="spacingAndGlyphs" stroke="#222" stroke-width="0.15">0.50</text>
<rect x="82.00" y="397.69" width="29.50" height="15.81" fill="#f1f3fb"/>
<text x="96.75" y="407.69" font-size="6.0" fill="#222" text-anchor="middle" textLength="13.30" lengthAdjust="spacingAndGlyphs" stroke="#222" stroke-width="0.15">−0.32</text>
<text x="113.20" y="407.69" font-size="6.0" fill="#2b2b2b" textLength="25.00" lengthAdjust="spacingAndGlyphs" stroke="#2b2b2b" stroke-width="0.15">Androgen</text>
<rect x="23.80" y="413.50" width="29.00" height="15.81" fill="#e3e7f7"/>
<text x="38.30" y="423.50" font-size="6.0" fill="#222" text-anchor="middle" textLength="13.30" lengthAdjust="spacingAndGlyphs" stroke="#222" stroke-width="0.15">−0.71</text>
<rect x="52.80" y="413.50" width="29.20" height="15.81" fill="#cfd6f1"/>
<text x="67.40" y="423.50" font-size="6.0" fill="#222" text-anchor="middle" textLength="13.30" lengthAdjust="spacingAndGlyphs" stroke="#222" stroke-width="0.15">−1.38</text>
<rect x="82.00" y="413.50" width="29.50" height="15.81" fill="#fcfcfe"/>
<text x="96.75" y="423.50" font-size="6.0" fill="#222" text-anchor="middle" textLength="13.30" lengthAdjust="spacingAndGlyphs" stroke="#222" stroke-width="0.15">−0.08</text>
<text x="113.20" y="423.50" font-size="6.0" fill="#2b2b2b" textLength="14.30" lengthAdjust="spacingAndGlyphs" stroke="#2b2b2b" stroke-width="0.15">VEGF</text>
<rect x="23.80" y="429.31" width="29.00" height="15.81" fill="#a9b5e7"/>
<text x="38.30" y="439.31" font-size="6.0" fill="#222" text-anchor="middle" textLength="13.30" lengthAdjust="spacingAndGlyphs" stroke="#222" stroke-width="0.15">−2.30</text>
<rect x="52.80" y="429.31" width="29.20" height="15.81" fill="#e4e8f7"/>
<text x="67.40" y="439.31" font-size="6.0" fill="#222" text-anchor="middle" textLength="13.30" lengthAdjust="spacingAndGlyphs" stroke="#222" stroke-width="0.15">−0.69</text>
<rect x="82.00" y="429.31" width="29.50" height="15.81" fill="#a1aee5"/>
<text x="96.75" y="439.31" font-size="6.0" fill="#222" text-anchor="middle" textLength="13.30" lengthAdjust="spacingAndGlyphs" stroke="#222" stroke-width="0.15">−2.60</text>
<text x="113.20" y="439.31" font-size="6.0" fill="#2b2b2b" textLength="13.20" lengthAdjust="spacingAndGlyphs" stroke="#2b2b2b" stroke-width="0.15">WNT</text>
<rect x="23.80" y="445.12" width="29.00" height="15.81" fill="#eff1fa"/>
<text x="38.30" y="455.12" font-size="6.0" fill="#222" text-anchor="middle" textLength="13.30" lengthAdjust="spacingAndGlyphs" stroke="#222" stroke-width="0.15">−0.37</text>
<rect x="52.80" y="445.12" width="29.20" height="15.81" fill="#dee3f5"/>
<text x="67.40" y="455.12" font-size="6.0" fill="#222" text-anchor="middle" textLength="13.30" lengthAdjust="spacingAndGlyphs" stroke="#222" stroke-width="0.15">−0.85</text>
<rect x="82.00" y="445.12" width="29.50" height="15.81" fill="#7286dd"/>
<text x="96.75" y="455.12" font-size="6.0" fill="#222" text-anchor="middle" textLength="13.30" lengthAdjust="spacingAndGlyphs" stroke="#222" stroke-width="0.15">−3.85</text>
<text x="113.20" y="455.12" font-size="6.0" fill="#2b2b2b" textLength="22.30" lengthAdjust="spacingAndGlyphs" stroke="#2b2b2b" stroke-width="0.15">Estrogen</text>
<rect x="23.80" y="460.93" width="29.00" height="15.81" fill="#fdf8f8"/>
<text x="38.30" y="470.94" font-size="6.0" fill="#222" text-anchor="middle" textLength="11.20" lengthAdjust="spacingAndGlyphs" stroke="#222" stroke-width="0.15">0.12</text>
<rect x="52.80" y="460.93" width="29.20" height="15.81" fill="#f7d9d9"/>
<text x="67.40" y="470.94" font-size="6.0" fill="#222" text-anchor="middle" textLength="11.20" lengthAdjust="spacingAndGlyphs" stroke="#222" stroke-width="0.15">0.79</text>
<rect x="82.00" y="460.93" width="29.50" height="15.81" fill="#8597de"/>
<text x="96.75" y="470.94" font-size="6.0" fill="#222" text-anchor="middle" textLength="13.30" lengthAdjust="spacingAndGlyphs" stroke="#222" stroke-width="0.15">−3.37</text>
<text x="113.20" y="470.94" font-size="6.0" fill="#2b2b2b" textLength="10.20" lengthAdjust="spacingAndGlyphs" stroke="#2b2b2b" stroke-width="0.15">Trail</text>
<line x1="23.80" y1="255.40" x2="111.50" y2="255.40" stroke="#9a9a9a" stroke-width="0.8"/>
<line x1="23.80" y1="271.21" x2="111.50" y2="271.21" stroke="#9a9a9a" stroke-width="0.8"/>
<line x1="23.80" y1="287.02" x2="111.50" y2="287.02" stroke="#9a9a9a" stroke-width="0.8"/>
<line x1="23.80" y1="302.83" x2="111.50" y2="302.83" stroke="#9a9a9a" stroke-width="0.8"/>
<line x1="23.80" y1="318.64" x2="111.50" y2="318.64" stroke="#9a9a9a" stroke-width="0.8"/>
<line x1="23.80" y1="334.45" x2="111.50" y2="334.45" stroke="#9a9a9a" stroke-width="0.8"/>
<line x1="23.80" y1="350.26" x2="111.50" y2="350.26" stroke="#9a9a9a" stroke-width="0.8"/>
<line x1="23.80" y1="366.07" x2="111.50" y2="366.07" stroke="#9a9a9a" stroke-width="0.8"/>
<line x1="23.80" y1="381.88" x2="111.50" y2="381.88" stroke="#9a9a9a" stroke-width="0.8"/>
<line x1="23.80" y1="397.69" x2="111.50" y2="397.69" stroke="#9a9a9a" stroke-width="0.8"/>
<line x1="23.80" y1="413.50" x2="111.50" y2="413.50" stroke="#9a9a9a" stroke-width="0.8"/>
<line x1="23.80" y1="429.31" x2="111.50" y2="429.31" stroke="#9a9a9a" stroke-width="0.8"/>
<line x1="23.80" y1="445.12" x2="111.50" y2="445.12" stroke="#9a9a9a" stroke-width="0.8"/>
<line x1="23.80" y1="460.93" x2="111.50" y2="460.93" stroke="#9a9a9a" stroke-width="0.8"/>
<line x1="23.80" y1="476.74" x2="111.50" y2="476.74" stroke="#9a9a9a" stroke-width="0.8"/>
<line x1="23.80" y1="255.40" x2="23.80" y2="476.74" stroke="#9a9a9a" stroke-width="0.8"/>
<line x1="52.80" y1="255.40" x2="52.80" y2="476.74" stroke="#9a9a9a" stroke-width="0.8"/>
<line x1="82.00" y1="255.40" x2="82.00" y2="476.74" stroke="#9a9a9a" stroke-width="0.8"/>
<line x1="111.50" y1="255.40" x2="111.50" y2="476.74" stroke="#9a9a9a" stroke-width="0.8"/>
<path d="M23.8 263 H22.5 V294.3" stroke="#555" stroke-width="0.7" fill="none"/>
<path d="M22.5 275 H19.1 V372" stroke="#555" stroke-width="0.9" fill="none"/>
<path d="M23.6 310.8 V326 M22.5 318.7 V340 M21.4 334 V350 M21.4 342 H19.1" stroke="#555" stroke-width="0.8" fill="none"/>
<path d="M19.1 372 H21.2 V392 M21.2 382 H22.5 V420 M22.5 404 H23.6 V440 M22.5 430 H21.0 V470 M21.0 455 H23.4 V476" stroke="#555" stroke-width="0.9" fill="none"/>
<line x1="24.20" y1="480.00" x2="111.30" y2="480.00" stroke="#4a4a4a" stroke-width="1.6"/>
<text x="47.50" y="490.40" font-size="8.6" fill="#1e1e1e" textLength="41.30" lengthAdjust="spacingAndGlyphs" stroke="#1e1e1e" stroke-width="0.15">ThPO vs. EV</text>
<text x="21.25" y="503.85" font-size="5.6" fill="#2b2b2b" textLength="38.00" lengthAdjust="spacingAndGlyphs" stroke="#2b2b2b" stroke-width="0.15">Downregulated</text>
<text x="79.50" y="503.85" font-size="5.6" fill="#2b2b2b" textLength="30.50" lengthAdjust="spacingAndGlyphs" stroke="#2b2b2b" stroke-width="0.15">Upregulated</text>
<defs><linearGradient id="cbar" x1="0" x2="1"><stop offset="0" stop-color="#1f36c2"/><stop offset="0.5" stop-color="#ffffff"/><stop offset="1" stop-color="#e00000"/></linearGradient></defs>
<rect x="40.75" y="507.00" width="53.00" height="5.20" fill="url(#cbar)"/>
<text x="48.75" y="518.80" font-size="5.4" fill="#2b2b2b" text-anchor="middle" stroke="#2b2b2b" stroke-width="0.15">−4</text>
<text x="58.00" y="518.80" font-size="5.4" fill="#2b2b2b" text-anchor="middle" stroke="#2b2b2b" stroke-width="0.15">−2</text>
<text x="67.50" y="518.80" font-size="5.4" fill="#2b2b2b" text-anchor="middle" stroke="#2b2b2b" stroke-width="0.15">0</text>
<text x="76.25" y="518.80" font-size="5.4" fill="#2b2b2b" text-anchor="middle" stroke="#2b2b2b" stroke-width="0.15">2</text>
<text x="86.25" y="518.80" font-size="5.4" fill="#2b2b2b" text-anchor="middle" stroke="#2b2b2b" stroke-width="0.15">4</text>
<text x="223.50" y="225.56" font-size="7.6" fill="#2b2b2b" textLength="119.80" lengthAdjust="spacingAndGlyphs" stroke="#2b2b2b" stroke-width="0.15">NABA_MATRISOME_ASSOCIATED</text>
<text x="266.30" y="232.80" font-size="7.6" fill="#2b2b2b" textLength="34.70" lengthAdjust="spacingAndGlyphs" stroke="#2b2b2b" stroke-width="0.15">Co-culture</text>
<line x1="190.20" y1="237.90" x2="376.40" y2="237.90" stroke="#555" stroke-width="1.5"/>
<text x="449.80" y="225.40" font-size="7.6" fill="#2b2b2b" textLength="26.30" lengthAdjust="spacingAndGlyphs" stroke="#2b2b2b" stroke-width="0.15">Fibrosis</text>
<text x="451.70" y="232.70" font-size="7.6" fill="#2b2b2b" textLength="21.90" lengthAdjust="spacingAndGlyphs" font-style="italic" stroke="#2b2b2b" stroke-width="0.15">in vivo</text>
<text x="225.30" y="251.21" font-size="4.6" fill="#2b2b2b" textLength="16.50" lengthAdjust="spacingAndGlyphs" stroke="#2b2b2b" stroke-width="0.15">HSPCs</text>
<text x="336.20" y="247.61" font-size="4.6" fill="#2b2b2b" textLength="23.80" lengthAdjust="spacingAndGlyphs" stroke="#2b2b2b" stroke-width="0.15">Gli1⁺ cells</text>
<text x="348.10" y="255.00" font-size="3.4" fill="#2b2b2b" text-anchor="middle" textLength="11.80" lengthAdjust="spacingAndGlyphs" stroke="#2b2b2b" stroke-width="0.15">(Early)</text>
<text x="451.30" y="247.61" font-size="4.6" fill="#2b2b2b" textLength="23.70" lengthAdjust="spacingAndGlyphs" stroke="#2b2b2b" stroke-width="0.15">Gli1⁺ cells</text>
<text x="463.40" y="255.00" font-size="3.4" fill="#2b2b2b" text-anchor="middle" textLength="9.60" lengthAdjust="spacingAndGlyphs" stroke="#2b2b2b" stroke-width="0.15">(Late)</text>
<text x="0" y="2.31" font-size="6.6" fill="#2b2b2b" text-anchor="middle" textLength="37.00" lengthAdjust="spacingAndGlyphs" stroke="#2b2b2b" stroke-width="0.15" transform="translate(169.70 368.50) rotate(-90)">-Log(p-value)</text>
<line x1="190.20" y1="504.60" x2="507.80" y2="504.60" stroke="#555" stroke-width="1.5"/>
<text x="328.30" y="516.40" font-size="8.6" fill="#1e1e1e" textLength="41.30" lengthAdjust="spacingAndGlyphs" stroke="#1e1e1e" stroke-width="0.15">ThPO vs. EV</text>
<path d="M229.22 261.30 L229.20 283.37 L229.17 302.66 L229.13 319.50 L229.10 334.22 L229.05 347.08 L229.00 358.32 L228.94 368.13 L228.88 376.71 L228.80 384.20 L228.72 390.74 L228.62 396.46 L228.50 401.46 L228.37 405.82 L228.22 409.63 L228.05 412.97 L227.86 415.88 L227.64 418.42 L227.38 420.64 L227.09 422.58 L226.76 424.28 L226.37 425.76 L225.94 427.05 L225.43 428.18 L224.86 429.17 L224.20 430.03 L223.45 430.79 L222.59 431.45 L221.61 432.02 L220.48 432.52 L219.19 432.96 L217.72 433.35 L216.03 433.68 L214.09 433.97 L211.88 434.23 L209.35 434.45 L206.45 434.65 L203.13 434.82 L199.33 434.97 L194.98 435.10 L190.00 435.21" stroke="#3a3a3a" stroke-width="0.9" fill="none" stroke-linejoin="round"/>
<path d="M237.98 261.30 L238.00 283.36 L238.03 302.64 L238.07 319.48 L238.10 334.20 L238.15 347.05 L238.20 358.29 L238.26 368.10 L238.32 376.68 L238.40 384.17 L238.48 390.71 L238.58 396.43 L238.70 401.43 L238.83 405.80 L238.97 409.61 L239.14 412.94 L239.34 415.86 L239.56 418.40 L239.82 420.62 L240.11 422.56 L240.44 424.26 L240.82 425.74 L241.26 427.04 L241.76 428.17 L242.33 429.16 L242.99 430.02 L243.74 430.78 L244.59 431.44 L245.58 432.01 L246.70 432.52 L247.99 432.96 L249.46 433.34 L251.15 433.68 L253.07 433.97 L255.28 434.23 L257.81 434.45 L260.70 434.65 L264.01 434.82 L267.80 434.97 L272.14 435.10 L277.10 435.21" stroke="#3a3a3a" stroke-width="0.9" fill="none" stroke-linejoin="round"/>
<line x1="190.00" y1="261.30" x2="190.00" y2="475.80" stroke="#2a2a2a" stroke-width="1.7"/>
<line x1="189.20" y1="475.00" x2="277.10" y2="475.00" stroke="#2a2a2a" stroke-width="1.7"/>
<line x1="187.20" y1="466.20" x2="190.00" y2="466.20" stroke="#2a2a2a" stroke-width="1.0"/>
<text x="184.00" y="468.10" font-size="5.4" fill="#2b2b2b" text-anchor="end" stroke="#2b2b2b" stroke-width="0.15">0</text>
<line x1="187.20" y1="417.20" x2="190.00" y2="417.20" stroke="#2a2a2a" stroke-width="1.0"/>
<text x="184.00" y="419.10" font-size="5.4" fill="#2b2b2b" text-anchor="end" stroke="#2b2b2b" stroke-width="0.15">5</text>
<line x1="187.20" y1="368.20" x2="190.00" y2="368.20" stroke="#2a2a2a" stroke-width="1.0"/>
<text x="184.00" y="370.10" font-size="5.4" fill="#2b2b2b" text-anchor="end" stroke="#2b2b2b" stroke-width="0.15">10</text>
<line x1="187.20" y1="319.20" x2="190.00" y2="319.20" stroke="#2a2a2a" stroke-width="1.0"/>
<text x="184.00" y="321.10" font-size="5.4" fill="#2b2b2b" text-anchor="end" stroke="#2b2b2b" stroke-width="0.15">15</text>
<line x1="187.20" y1="270.20" x2="190.00" y2="270.20" stroke="#2a2a2a" stroke-width="1.0"/>
<text x="184.00" y="272.10" font-size="5.4" fill="#2b2b2b" text-anchor="end" stroke="#2b2b2b" stroke-width="0.15">20</text>
<line x1="204.10" y1="475.00" x2="204.10" y2="477.60" stroke="#2a2a2a" stroke-width="1.0"/>
<text x="204.10" y="487.80" font-size="5.4" fill="#2b2b2b" text-anchor="middle" stroke="#2b2b2b" stroke-width="0.15">-2</text>
<line x1="233.20" y1="475.00" x2="233.20" y2="477.60" stroke="#2a2a2a" stroke-width="1.0"/>
<text x="233.20" y="487.80" font-size="5.4" fill="#2b2b2b" text-anchor="middle" stroke="#2b2b2b" stroke-width="0.15">0</text>
<line x1="262.30" y1="475.00" x2="262.30" y2="477.60" stroke="#2a2a2a" stroke-width="1.0"/>
<text x="262.30" y="487.80" font-size="5.4" fill="#2b2b2b" text-anchor="middle" stroke="#2b2b2b" stroke-width="0.15">2</text>
<text x="225.75" y="499.60" font-size="7.8" fill="#2b2b2b" textLength="15.70" lengthAdjust="spacingAndGlyphs" stroke="#2b2b2b" stroke-width="0.15">LogFC</text>
<circle cx="231.10" cy="453.63" r="0.85" fill="#5f6f8f" fill-opacity="0.9"/>
<circle cx="228.01" cy="425.98" r="0.85" fill="#5f6f8f" fill-opacity="0.9"/>
<circle cx="228.08" cy="444.47" r="0.85" fill="#5f6f8f" fill-opacity="0.9"/>
<circle cx="236.20" cy="457.53" r="0.85" fill="#5f6f8f" fill-opacity="0.9"/>
<circle cx="228.60" cy="417.56" r="0.85" fill="#5f6f8f" fill-opacity="0.9"/>
<circle cx="228.25" cy="415.81" r="0.85" fill="#5f6f8f" fill-opacity="0.9"/>
<circle cx="230.91" cy="448.57" r="0.85" fill="#5f6f8f" fill-opacity="0.9"/>
<circle cx="228.92" cy="433.96" r="0.85" fill="#5f6f8f" fill-opacity="0.9"/>
<circle cx="231.53" cy="450.92" r="0.85" fill="#5f6f8f" fill-opacity="0.9"/>
<circle cx="237.97" cy="444.24" r="0.85" fill="#5f6f8f" fill-opacity="0.9"/>
<circle cx="238.51" cy="420.20" r="0.85" fill="#5f6f8f" fill-opacity="0.9"/>
<circle cx="227.14" cy="433.52" r="0.85" fill="#5f6f8f" fill-opacity="0.9"/>
<circle cx="237.68" cy="444.46" r="0.85" fill="#5f6f8f" fill-opacity="0.9"/>
<circle cx="228.34" cy="415.63" r="0.85" fill="#5f6f8f" fill-opacity="0.9"/>
<circle cx="234.08" cy="453.27" r="0.85" fill="#5f6f8f" fill-opacity="0.9"/>
<circle cx="233.35" cy="463.85" r="0.85" fill="#5f6f8f" fill-opacity="0.9"/>
<circle cx="238.16" cy="444.88" r="0.85" fill="#5f6f8f" fill-opacity="0.9"/>
<circle cx="230.11" cy="456.30" r="0.85" fill="#5f6f8f" fill-opacity="0.9"/>
<circle cx="238.81" cy="436.84" r="0.85" fill="#5f6f8f" fill-opacity="0.9"/>
<circle cx="227.01" cy="434.93" r="0.85" fill="#5f6f8f" fill-opacity="0.9"/>
<circle cx="240.43" cy="438.76" r="0.85" fill="#5f6f8f" fill-opacity="0.9"/>
<circle cx="234.24" cy="462.40" r="0.85" fill="#5f6f8f" fill-opacity="0.9"/>
<circle cx="230.08" cy="444.99" r="0.85" fill="#5f6f8f" fill-opacity="0.9"/>
<circle cx="239.48" cy="421.62" r="0.85" fill="#5f6f8f" fill-opacity="0.9"/>
<circle cx="236.52" cy="448.59" r="0.85" fill="#5f6f8f" fill-opacity="0.9"/>
<circle cx="231.48" cy="458.05" r="0.85" fill="#5f6f8f" fill-opacity="0.9"/>
<circle cx="235.33" cy="457.34" r="0.85" fill="#5f6f8f" fill-opacity="0.9"/>
<circle cx="232.05" cy="455.71" r="0.85" fill="#5f6f8f" fill-opacity="0.9"/>
<circle cx="228.58" cy="440.40" r="0.85" fill="#5f6f8f" fill-opacity="0.9"/>
<circle cx="229.55" cy="438.34" r="0.85" fill="#5f6f8f" fill-opacity="0.9"/>
<circle cx="238.28" cy="417.80" r="0.85" fill="#5f6f8f" fill-opacity="0.9"/>
<circle cx="237.93" cy="445.66" r="0.85" fill="#5f6f8f" fill-opacity="0.9"/>
<circle cx="231.04" cy="459.08" r="0.85" fill="#5f6f8f" fill-opacity="0.9"/>
<circle cx="234.97" cy="462.39" r="0.85" fill="#5f6f8f" fill-opacity="0.9"/>
<circle cx="226.93" cy="437.79" r="0.85" fill="#5f6f8f" fill-opacity="0.9"/>
<circle cx="235.49" cy="460.84" r="0.85" fill="#5f6f8f" fill-opacity="0.9"/>
<circle cx="227.61" cy="444.70" r="0.85" fill="#5f6f8f" fill-opacity="0.9"/>
<circle cx="237.26" cy="446.67" r="0.85" fill="#5f6f8f" fill-opacity="0.9"/>
<circle cx="237.63" cy="430.36" r="0.85" fill="#5f6f8f" fill-opacity="0.9"/>
<circle cx="227.72" cy="443.53" r="0.85" fill="#5f6f8f" fill-opacity="0.9"/>
<circle cx="232.46" cy="460.68" r="0.85" fill="#5f6f8f" fill-opacity="0.9"/>
<circle cx="228.03" cy="436.24" r="0.85" fill="#5f6f8f" fill-opacity="0.9"/>
<circle cx="230.83" cy="451.75" r="0.85" fill="#5f6f8f" fill-opacity="0.9"/>
<circle cx="237.51" cy="441.82" r="0.85" fill="#5f6f8f" fill-opacity="0.9"/>
<circle cx="227.23" cy="427.02" r="0.85" fill="#5f6f8f" fill-opacity="0.9"/>
<circle cx="227.48" cy="431.41" r="0.85" fill="#5f6f8f" fill-opacity="0.9"/>
<circle cx="227.55" cy="430.84" r="0.85" fill="#5f6f8f" fill-opacity="0.9"/>
<circle cx="232.69" cy="459.65" r="0.85" fill="#5f6f8f" fill-opacity="0.9"/>
<circle cx="239.37" cy="415.24" r="0.85" fill="#5f6f8f" fill-opacity="0.9"/>
<circle cx="237.85" cy="446.87" r="0.85" fill="#5f6f8f" fill-opacity="0.9"/>
<circle cx="229.10" cy="420.94" r="0.85" fill="#5f6f8f" fill-opacity="0.9"/>
<circle cx="227.57" cy="426.98" r="0.85" fill="#5f6f8f" fill-opacity="0.9"/>
<circle cx="230.76" cy="450.43" r="0.85" fill="#5f6f8f" fill-opacity="0.9"/>
<circle cx="240.86" cy="428.47" r="0.85" fill="#5f6f8f" fill-opacity="0.9"/>
<circle cx="237.23" cy="432.65" r="0.85" fill="#5f6f8f" fill-opacity="0.9"/>
<circle cx="227.59" cy="431.76" r="0.85" fill="#5f6f8f" fill-opacity="0.9"/>
<circle cx="239.09" cy="439.33" r="0.85" fill="#5f6f8f" fill-opacity="0.9"/>
<circle cx="238.54" cy="425.13" r="0.85" fill="#5f6f8f" fill-opacity="0.9"/>
<circle cx="226.80" cy="442.07" r="0.85" fill="#5f6f8f" fill-opacity="0.9"/>
<circle cx="229.87" cy="431.48" r="0.85" fill="#5f6f8f" fill-opacity="0.9"/>
<circle cx="229.43" cy="447.79" r="0.85" fill="#5f6f8f" fill-opacity="0.9"/>
<circle cx="233.69" cy="456.81" r="0.85" fill="#5f6f8f" fill-opacity="0.9"/>
<circle cx="236.10" cy="453.28" r="0.85" fill="#5f6f8f" fill-opacity="0.9"/>
<circle cx="238.14" cy="430.07" r="0.85" fill="#5f6f8f" fill-opacity="0.9"/>
<circle cx="229.84" cy="443.58" r="0.85" fill="#5f6f8f" fill-opacity="0.9"/>
<circle cx="233.67" cy="464.34" r="0.85" fill="#5f6f8f" fill-opacity="0.9"/>
<circle cx="227.32" cy="429.15" r="0.85" fill="#5f6f8f" fill-opacity="0.9"/>
<circle cx="228.30" cy="432.28" r="0.85" fill="#5f6f8f" fill-opacity="0.9"/>
<circle cx="228.09" cy="441.46" r="0.85" fill="#5f6f8f" fill-opacity="0.9"/>
<circle cx="231.98" cy="458.77" r="0.85" fill="#5f6f8f" fill-opacity="0.9"/>
<circle cx="229.40" cy="441.46" r="0.85" fill="#5f6f8f" fill-opacity="0.9"/>
<circle cx="229.25" cy="443.79" r="0.85" fill="#5f6f8f" fill-opacity="0.9"/>
<circle cx="237.54" cy="442.78" r="0.85" fill="#5f6f8f" fill-opacity="0.9"/>
<circle cx="239.79" cy="442.85" r="0.85" fill="#5f6f8f" fill-opacity="0.9"/>
<circle cx="235.07" cy="459.10" r="0.85" fill="#5f6f8f" fill-opacity="0.9"/>
<circle cx="230.07" cy="447.20" r="0.85" fill="#5f6f8f" fill-opacity="0.9"/>
<circle cx="235.27" cy="457.45" r="0.85" fill="#5f6f8f" fill-opacity="0.9"/>
<circle cx="235.52" cy="461.62" r="0.85" fill="#5f6f8f" fill-opacity="0.9"/>
<circle cx="227.81" cy="416.26" r="0.85" fill="#5f6f8f" fill-opacity="0.9"/>
<circle cx="226.10" cy="421.77" r="0.85" fill="#5f6f8f" fill-opacity="0.9"/>
<circle cx="235.34" cy="460.52" r="0.85" fill="#5f6f8f" fill-opacity="0.9"/>
<circle cx="236.35" cy="449.46" r="0.85" fill="#5f6f8f" fill-opacity="0.9"/>
<circle cx="233.31" cy="465.03" r="0.85" fill="#5f6f8f" fill-opacity="0.9"/>
<circle cx="235.67" cy="453.16" r="0.85" fill="#5f6f8f" fill-opacity="0.9"/>
<circle cx="227.38" cy="415.28" r="0.85" fill="#5f6f8f" fill-opacity="0.9"/>
<circle cx="230.98" cy="456.03" r="0.85" fill="#5f6f8f" fill-opacity="0.9"/>
<circle cx="239.79" cy="429.28" r="0.85" fill="#5f6f8f" fill-opacity="0.9"/>
<circle cx="240.19" cy="418.79" r="0.85" fill="#5f6f8f" fill-opacity="0.9"/>
<circle cx="238.93" cy="440.82" r="0.85" fill="#5f6f8f" fill-opacity="0.9"/>
<circle cx="239.56" cy="433.71" r="0.85" fill="#5f6f8f" fill-opacity="0.9"/>
<circle cx="233.23" cy="464.85" r="0.85" fill="#5f6f8f" fill-opacity="0.9"/>
<circle cx="227.84" cy="423.91" r="0.85" fill="#5f6f8f" fill-opacity="0.9"/>
<circle cx="234.07" cy="464.97" r="0.85" fill="#5f6f8f" fill-opacity="0.9"/>
<circle cx="230.44" cy="461.24" r="0.85" fill="#5f6f8f" fill-opacity="0.9"/>
<circle cx="231.25" cy="456.78" r="0.85" fill="#5f6f8f" fill-opacity="0.9"/>
<circle cx="231.33" cy="454.99" r="0.85" fill="#5f6f8f" fill-opacity="0.9"/>
<circle cx="235.52" cy="458.38" r="0.85" fill="#5f6f8f" fill-opacity="0.9"/>
<circle cx="233.37" cy="463.97" r="0.85" fill="#5f6f8f" fill-opacity="0.9"/>
<circle cx="234.68" cy="459.98" r="0.85" fill="#5f6f8f" fill-opacity="0.9"/>
<circle cx="238.37" cy="435.18" r="0.85" fill="#5f6f8f" fill-opacity="0.9"/>
<circle cx="238.02" cy="420.27" r="0.85" fill="#5f6f8f" fill-opacity="0.9"/>
<circle cx="231.37" cy="452.89" r="0.85" fill="#5f6f8f" fill-opacity="0.9"/>
<circle cx="231.90" cy="464.21" r="0.85" fill="#5f6f8f" fill-opacity="0.9"/>
<circle cx="239.20" cy="422.33" r="0.85" fill="#5f6f8f" fill-opacity="0.9"/>
<circle cx="237.88" cy="424.15" r="0.85" fill="#5f6f8f" fill-opacity="0.9"/>
<circle cx="232.67" cy="464.84" r="0.85" fill="#5f6f8f" fill-opacity="0.9"/>
<circle cx="236.44" cy="456.20" r="0.85" fill="#5f6f8f" fill-opacity="0.9"/>
<circle cx="235.26" cy="457.45" r="0.85" fill="#5f6f8f" fill-opacity="0.9"/>
<circle cx="231.81" cy="453.08" r="0.85" fill="#5f6f8f" fill-opacity="0.9"/>
<circle cx="230.65" cy="459.47" r="0.85" fill="#5f6f8f" fill-opacity="0.9"/>
<circle cx="233.12" cy="461.46" r="0.85" fill="#5f6f8f" fill-opacity="0.9"/>
<circle cx="228.75" cy="437.06" r="0.85" fill="#5f6f8f" fill-opacity="0.9"/>
<circle cx="239.13" cy="429.41" r="0.85" fill="#5f6f8f" fill-opacity="0.9"/>
<circle cx="237.56" cy="444.21" r="0.85" fill="#5f6f8f" fill-opacity="0.9"/>
<circle cx="233.42" cy="463.52" r="0.85" fill="#5f6f8f" fill-opacity="0.9"/>
<circle cx="232.01" cy="460.78" r="0.85" fill="#5f6f8f" fill-opacity="0.9"/>
<circle cx="227.57" cy="421.40" r="0.85" fill="#5f6f8f" fill-opacity="0.9"/>
<circle cx="228.50" cy="437.32" r="0.85" fill="#5f6f8f" fill-opacity="0.9"/>
<circle cx="234.13" cy="463.70" r="0.85" fill="#5f6f8f" fill-opacity="0.9"/>
<circle cx="229.42" cy="445.23" r="0.85" fill="#5f6f8f" fill-opacity="0.9"/>
<circle cx="227.98" cy="418.61" r="0.85" fill="#5f6f8f" fill-opacity="0.9"/>
<circle cx="239.63" cy="430.14" r="0.85" fill="#5f6f8f" fill-opacity="0.9"/>
<circle cx="231.58" cy="458.27" r="0.85" fill="#5f6f8f" fill-opacity="0.9"/>
<circle cx="239.13" cy="447.22" r="0.85" fill="#5f6f8f" fill-opacity="0.9"/>
<circle cx="232.20" cy="454.75" r="0.85" fill="#5f6f8f" fill-opacity="0.9"/>
<circle cx="240.16" cy="406.69" r="0.75" fill="#c03050"/>
<circle cx="242.81" cy="421.58" r="0.75" fill="#c03050"/>
<circle cx="243.57" cy="417.19" r="0.75" fill="#c03050"/>
<circle cx="239.19" cy="404.52" r="0.75" fill="#c03050"/>
<circle cx="243.03" cy="419.80" r="0.75" fill="#c03050"/>
<circle cx="249.38" cy="419.89" r="0.75" fill="#c03050"/>
<circle cx="243.36" cy="415.91" r="0.75" fill="#c03050"/>
<circle cx="245.97" cy="414.66" r="0.75" fill="#c03050"/>
<circle cx="240.78" cy="425.34" r="0.75" fill="#c03050"/>
<circle cx="241.99" cy="427.45" r="0.75" fill="#c03050"/>
<circle cx="253.04" cy="403.44" r="0.75" fill="#c03050"/>
<circle cx="245.88" cy="423.50" r="0.75" fill="#c03050"/>
<circle cx="253.52" cy="414.24" r="0.75" fill="#c03050"/>
<circle cx="243.03" cy="408.25" r="0.75" fill="#c03050"/>
<circle cx="253.18" cy="408.27" r="0.75" fill="#c03050"/>
<circle cx="247.72" cy="406.54" r="0.75" fill="#c03050"/>
<circle cx="246.86" cy="426.82" r="0.75" fill="#c03050"/>
<circle cx="240.99" cy="423.51" r="0.75" fill="#c03050"/>
<circle cx="246.63" cy="425.17" r="0.75" fill="#c03050"/>
<circle cx="249.55" cy="408.78" r="0.75" fill="#c03050"/>
<circle cx="252.47" cy="415.15" r="0.75" fill="#c03050"/>
<circle cx="239.37" cy="403.09" r="0.75" fill="#c03050"/>
<circle cx="246.38" cy="414.27" r="0.75" fill="#c03050"/>
<circle cx="243.53" cy="406.52" r="0.75" fill="#c03050"/>
<circle cx="244.16" cy="410.90" r="0.75" fill="#c03050"/>
<circle cx="251.60" cy="403.04" r="0.75" fill="#c03050"/>
<circle cx="250.26" cy="423.98" r="0.75" fill="#c03050"/>
<circle cx="240.80" cy="426.16" r="0.75" fill="#c03050"/>
<circle cx="249.70" cy="425.54" r="0.75" fill="#c03050"/>
<circle cx="243.35" cy="412.31" r="0.75" fill="#c03050"/>
<circle cx="244.89" cy="427.97" r="0.75" fill="#c03050"/>
<circle cx="247.84" cy="412.02" r="0.75" fill="#c03050"/>
<circle cx="244.00" cy="386.60" r="0.75" fill="#c03050"/>
<circle cx="241.34" cy="382.44" r="0.75" fill="#c03050"/>
<circle cx="246.84" cy="386.85" r="0.75" fill="#c03050"/>
<circle cx="247.55" cy="385.98" r="0.75" fill="#c03050"/>
<circle cx="242.86" cy="392.26" r="0.75" fill="#c03050"/>
<circle cx="242.33" cy="388.96" r="0.75" fill="#c03050"/>
<circle cx="247.69" cy="401.22" r="0.75" fill="#c03050"/>
<circle cx="246.68" cy="395.14" r="0.75" fill="#c03050"/>
<circle cx="247.39" cy="402.58" r="0.75" fill="#c03050"/>
<circle cx="244.84" cy="397.27" r="0.75" fill="#c03050"/>
<circle cx="222.30" cy="419.65" r="0.75" fill="#5f6f8f"/>
<circle cx="224.71" cy="420.05" r="0.75" fill="#5f6f8f"/>
<circle cx="225.87" cy="410.72" r="0.75" fill="#5f6f8f"/>
<circle cx="222.29" cy="423.54" r="0.75" fill="#5f6f8f"/>
<circle cx="222.76" cy="414.44" r="0.75" fill="#5f6f8f"/>
<line x1="268.20" y1="270.60" x2="268.20" y2="272.30" stroke="#c63a60" stroke-width="0.6"/>
<circle cx="268.20" cy="272.30" r="0.8" fill="#b02040"/>
<line x1="260.90" y1="293.40" x2="260.90" y2="291.30" stroke="#c63a60" stroke-width="0.6"/>
<circle cx="260.90" cy="291.30" r="0.8" fill="#b02040"/>
<line x1="247.60" y1="309.90" x2="247.60" y2="312.00" stroke="#c63a60" stroke-width="0.6"/>
<circle cx="247.60" cy="312.00" r="0.8" fill="#b02040"/>
<line x1="252.80" y1="321.30" x2="252.80" y2="323.00" stroke="#c63a60" stroke-width="0.6"/>
<circle cx="252.80" cy="323.00" r="0.8" fill="#b02040"/>
<line x1="259.10" y1="327.10" x2="253.10" y2="327.10" stroke="#c63a60" stroke-width="0.6"/>
<circle cx="253.10" cy="327.10" r="0.8" fill="#b02040"/>
<line x1="211.10" y1="330.60" x2="211.10" y2="332.20" stroke="#5a72a8" stroke-width="0.6"/>
<circle cx="211.10" cy="332.20" r="0.8" fill="#3a5590"/>
<line x1="222.30" y1="342.60" x2="222.30" y2="344.70" stroke="#5a72a8" stroke-width="0.6"/>
<circle cx="222.30" cy="344.70" r="0.8" fill="#3a5590"/>
<line x1="213.20" y1="360.00" x2="221.20" y2="364.10" stroke="#5a72a8" stroke-width="0.6"/>
<circle cx="221.20" cy="364.10" r="0.8" fill="#3a5590"/>
<line x1="213.20" y1="380.40" x2="221.60" y2="380.10" stroke="#5a72a8" stroke-width="0.6"/>
<circle cx="221.60" cy="380.10" r="0.8" fill="#3a5590"/>
<line x1="213.60" y1="391.00" x2="226.00" y2="380.50" stroke="#5a72a8" stroke-width="0.6"/>
<circle cx="226.00" cy="380.50" r="0.8" fill="#3a5590"/>
<line x1="226.00" y1="370.50" x2="231.00" y2="372.00" stroke="#5a72a8" stroke-width="0.6"/>
<circle cx="231.00" cy="372.00" r="0.8" fill="#3a5590"/>
<line x1="240.00" y1="341.60" x2="243.00" y2="348.00" stroke="#c63a60" stroke-width="0.6"/>
<circle cx="243.00" cy="348.00" r="0.8" fill="#b02040"/>
<line x1="255.00" y1="341.60" x2="253.00" y2="346.00" stroke="#c63a60" stroke-width="0.6"/>
<circle cx="253.00" cy="346.00" r="0.8" fill="#b02040"/>
<line x1="273.00" y1="341.60" x2="270.00" y2="345.00" stroke="#c63a60" stroke-width="0.6"/>
<circle cx="270.00" cy="345.00" r="0.8" fill="#b02040"/>
<line x1="242.00" y1="353.00" x2="248.00" y2="362.00" stroke="#c63a60" stroke-width="0.6"/>
<circle cx="248.00" cy="362.00" r="0.8" fill="#b02040"/>
<line x1="259.00" y1="352.00" x2="257.00" y2="356.00" stroke="#c63a60" stroke-width="0.6"/>
<circle cx="257.00" cy="356.00" r="0.8" fill="#b02040"/>
<line x1="254.00" y1="374.20" x2="252.00" y2="378.00" stroke="#c63a60" stroke-width="0.6"/>
<circle cx="252.00" cy="378.00" r="0.8" fill="#b02040"/>
<line x1="268.00" y1="373.40" x2="262.00" y2="378.00" stroke="#c63a60" stroke-width="0.6"/>
<circle cx="262.00" cy="378.00" r="0.8" fill="#b02040"/>
<line x1="262.00" y1="384.60" x2="268.00" y2="387.50" stroke="#c63a60" stroke-width="0.6"/>
<circle cx="268.00" cy="387.50" r="0.8" fill="#b02040"/>
<line x1="240.00" y1="384.90" x2="244.00" y2="392.00" stroke="#c63a60" stroke-width="0.6"/>
<circle cx="244.00" cy="392.00" r="0.8" fill="#b02040"/>
<line x1="236.00" y1="396.20" x2="240.00" y2="404.00" stroke="#c63a60" stroke-width="0.6"/>
<circle cx="240.00" cy="404.00" r="0.8" fill="#b02040"/>
<line x1="255.00" y1="396.20" x2="252.00" y2="402.00" stroke="#c63a60" stroke-width="0.6"/>
<circle cx="252.00" cy="402.00" r="0.8" fill="#b02040"/>
<line x1="259.00" y1="407.40" x2="258.00" y2="411.00" stroke="#c63a60" stroke-width="0.6"/>
<circle cx="258.00" cy="411.00" r="0.8" fill="#b02040"/>
<line x1="232.00" y1="407.40" x2="231.00" y2="414.00" stroke="#c63a60" stroke-width="0.6"/>
<circle cx="231.00" cy="414.00" r="0.8" fill="#b02040"/>
<line x1="246.00" y1="407.40" x2="247.00" y2="414.00" stroke="#c63a60" stroke-width="0.6"/>
<circle cx="247.00" cy="414.00" r="0.8" fill="#b02040"/>
<rect x="263.40" y="263.20" width="14.10" height="7.40" fill="none" stroke="#c63a60" stroke-width="0.75" rx="1.2"/>
<text x="270.45" y="268.50" font-size="4.6" fill="#b8304f" text-anchor="middle" textLength="11.30" lengthAdjust="spacingAndGlyphs">CXCL3</text>
<rect x="253.70" y="293.40" width="9.90" height="7.10" fill="none" stroke="#c63a60" stroke-width="0.75" rx="1.2"/>
<text x="258.65" y="298.55" font-size="4.6" fill="#b8304f" text-anchor="middle" textLength="7.10" lengthAdjust="spacingAndGlyphs">IL1A</text>
<rect x="239.30" y="302.80" width="11.70" height="7.10" fill="none" stroke="#c63a60" stroke-width="0.75" rx="1.2"/>
<text x="245.15" y="307.95" font-size="4.6" fill="#b8304f" text-anchor="middle" textLength="8.90" lengthAdjust="spacingAndGlyphs">SDC1</text>
<rect x="240.50" y="314.00" width="16.30" height="7.30" fill="none" stroke="#c63a60" stroke-width="0.75" rx="1.2"/>
<text x="248.65" y="319.25" font-size="4.6" fill="#b8304f" text-anchor="middle" textLength="13.50" lengthAdjust="spacingAndGlyphs">CLEC7A</text>
<rect x="259.10" y="323.50" width="11.50" height="7.40" fill="none" stroke="#c63a60" stroke-width="0.75" rx="1.2"/>
<text x="264.85" y="328.80" font-size="4.6" fill="#b8304f" text-anchor="middle" textLength="8.70" lengthAdjust="spacingAndGlyphs">PPBP</text>
<rect x="204.30" y="323.20" width="18.80" height="7.40" fill="none" stroke="#5a72a8" stroke-width="0.75" rx="1.2"/>
<text x="213.70" y="328.50" font-size="4.6" fill="#3f5a92" text-anchor="middle" textLength="16.00" lengthAdjust="spacingAndGlyphs">ANGPTL6</text>
<rect x="212.20" y="335.30" width="14.40" height="7.30" fill="none" stroke="#5a72a8" stroke-width="0.75" rx="1.2"/>
<text x="219.40" y="340.55" font-size="4.6" fill="#3f5a92" text-anchor="middle" textLength="11.60" lengthAdjust="spacingAndGlyphs">VEGFB</text>
<rect x="228.80" y="334.20" width="13.20" height="7.40" fill="none" stroke="#c63a60" stroke-width="0.75" rx="1.2"/>
<text x="235.40" y="339.50" font-size="4.6" fill="#b8304f" text-anchor="middle" textLength="10.40" lengthAdjust="spacingAndGlyphs">TIMP1</text>
<rect x="244.70" y="334.20" width="19.80" height="7.40" fill="none" stroke="#c63a60" stroke-width="0.75" rx="1.2"/>
<text x="254.60" y="339.50" font-size="4.6" fill="#b8304f" text-anchor="middle" textLength="17.00" lengthAdjust="spacingAndGlyphs">SERPINB2</text>
<rect x="266.30" y="334.20" width="13.70" height="7.40" fill="none" stroke="#c63a60" stroke-width="0.75" rx="1.2"/>
<text x="273.15" y="339.50" font-size="4.6" fill="#b8304f" text-anchor="middle" textLength="10.90" lengthAdjust="spacingAndGlyphs">CXCL1</text>
<rect x="213.40" y="346.00" width="22.20" height="7.00" fill="none" stroke="#c63a60" stroke-width="0.75" rx="1.2"/>
<text x="224.50" y="351.10" font-size="4.6" fill="#b8304f" text-anchor="middle" textLength="19.40" lengthAdjust="spacingAndGlyphs">SERPINB10</text>
<rect x="235.60" y="346.00" width="11.40" height="7.00" fill="none" stroke="#c63a60" stroke-width="0.75" rx="1.2"/>
<text x="241.30" y="351.10" font-size="4.6" fill="#b8304f" text-anchor="middle" textLength="8.60" lengthAdjust="spacingAndGlyphs">EPC1</text>
<rect x="253.30" y="345.30" width="20.00" height="6.70" fill="none" stroke="#c63a60" stroke-width="0.75" rx="1.2"/>
<text x="263.30" y="350.25" font-size="4.6" fill="#b8304f" text-anchor="middle" textLength="17.20" lengthAdjust="spacingAndGlyphs">SERPINE2</text>
<rect x="194.70" y="356.40" width="18.50" height="7.20" fill="none" stroke="#5a72a8" stroke-width="0.75" rx="1.2"/>
<text x="203.95" y="361.60" font-size="4.6" fill="#3f5a92" text-anchor="middle" textLength="15.70" lengthAdjust="spacingAndGlyphs">CLEC10A</text>
<rect x="226.40" y="357.10" width="15.90" height="6.90" fill="none" stroke="#c63a60" stroke-width="0.75" rx="1.2"/>
<text x="234.35" y="362.15" font-size="4.6" fill="#b8304f" text-anchor="middle" textLength="13.10" lengthAdjust="spacingAndGlyphs">TNFSF4</text>
<rect x="248.40" y="356.40" width="11.10" height="7.00" fill="none" stroke="#c63a60" stroke-width="0.75" rx="1.2"/>
<text x="253.95" y="361.50" font-size="4.6" fill="#b8304f" text-anchor="middle" textLength="8.30" lengthAdjust="spacingAndGlyphs">CCL3</text>
<rect x="215.50" y="367.20" width="13.30" height="7.30" fill="none" stroke="#5a72a8" stroke-width="0.75" rx="1.2"/>
<text x="222.15" y="372.45" font-size="4.6" fill="#3f5a92" text-anchor="middle" textLength="10.50" lengthAdjust="spacingAndGlyphs">PLOD1</text>
<rect x="236.40" y="367.00" width="9.80" height="7.20" fill="none" stroke="#c63a60" stroke-width="0.75" rx="1.2"/>
<text x="241.30" y="372.20" font-size="4.6" fill="#b8304f" text-anchor="middle" textLength="6.39" lengthAdjust="spacingAndGlyphs">IL6</text>
<rect x="249.30" y="367.00" width="12.40" height="7.20" fill="none" stroke="#c63a60" stroke-width="0.75" rx="1.2"/>
<text x="255.50" y="372.20" font-size="4.6" fill="#b8304f" text-anchor="middle" textLength="9.60" lengthAdjust="spacingAndGlyphs">NRG1</text>
<rect x="264.10" y="366.30" width="9.50" height="7.10" fill="none" stroke="#c63a60" stroke-width="0.75" rx="1.2"/>
<text x="268.85" y="371.45" font-size="4.6" fill="#b8304f" text-anchor="middle" textLength="6.70" lengthAdjust="spacingAndGlyphs">IL1B</text>
<rect x="192.30" y="376.70" width="20.90" height="7.40" fill="none" stroke="#5a72a8" stroke-width="0.75" rx="1.2"/>
<text x="202.75" y="382.00" font-size="4.6" fill="#3f5a92" text-anchor="middle" textLength="18.10" lengthAdjust="spacingAndGlyphs">ADAMTSL5</text>
<rect x="226.00" y="377.80" width="16.20" height="7.10" fill="none" stroke="#c63a60" stroke-width="0.75" rx="1.2"/>
<text x="234.10" y="382.95" font-size="4.6" fill="#b8304f" text-anchor="middle" textLength="13.40" lengthAdjust="spacingAndGlyphs">SEMA3C</text>
<rect x="249.60" y="377.40" width="16.80" height="7.20" fill="none" stroke="#c63a60" stroke-width="0.75" rx="1.2"/>
<text x="258.00" y="382.60" font-size="4.6" fill="#b8304f" text-anchor="middle" textLength="14.00" lengthAdjust="spacingAndGlyphs">CLEC4E</text>
<rect x="202.00" y="387.40" width="11.60" height="7.50" fill="none" stroke="#5a72a8" stroke-width="0.75" rx="1.2"/>
<text x="207.80" y="392.75" font-size="4.6" fill="#3f5a92" text-anchor="middle" textLength="8.80" lengthAdjust="spacingAndGlyphs">F3H3</text>
<rect x="215.20" y="388.60" width="9.40" height="6.70" fill="none" stroke="#c63a60" stroke-width="0.75" rx="1.2"/>
<text x="219.90" y="393.55" font-size="4.6" fill="#b8304f" text-anchor="middle" textLength="6.60" lengthAdjust="spacingAndGlyphs">FST</text>
<rect x="226.70" y="389.20" width="17.50" height="7.00" fill="none" stroke="#c63a60" stroke-width="0.75" rx="1.2"/>
<text x="235.45" y="394.30" font-size="4.6" fill="#b8304f" text-anchor="middle" textLength="14.70" lengthAdjust="spacingAndGlyphs">S100A11</text>
<rect x="248.30" y="389.00" width="14.10" height="7.20" fill="none" stroke="#c63a60" stroke-width="0.75" rx="1.2"/>
<text x="255.35" y="394.20" font-size="4.6" fill="#b8304f" text-anchor="middle" textLength="11.30" lengthAdjust="spacingAndGlyphs">CXCL2</text>
<rect x="264.40" y="387.20" width="14.10" height="7.40" fill="none" stroke="#c63a60" stroke-width="0.75" rx="1.2"/>
<text x="271.45" y="392.50" font-size="4.6" fill="#b8304f" text-anchor="middle" textLength="11.30" lengthAdjust="spacingAndGlyphs">CXCL5</text>
<rect x="214.50" y="399.90" width="10.10" height="6.70" fill="none" stroke="#c63a60" stroke-width="0.75" rx="1.2"/>
<text x="219.55" y="404.85" font-size="4.6" fill="#b8304f" text-anchor="middle" textLength="7.30" lengthAdjust="spacingAndGlyphs">HGF</text>
<rect x="228.70" y="400.30" width="11.20" height="7.10" fill="none" stroke="#c63a60" stroke-width="0.75" rx="1.2"/>
<text x="234.30" y="405.45" font-size="4.6" fill="#b8304f" text-anchor="middle" textLength="8.40" lengthAdjust="spacingAndGlyphs">MMP1</text>
<rect x="241.50" y="400.30" width="13.80" height="7.10" fill="none" stroke="#c63a60" stroke-width="0.75" rx="1.2"/>
<text x="248.40" y="405.45" font-size="4.6" fill="#b8304f" text-anchor="middle" textLength="11.00" lengthAdjust="spacingAndGlyphs">CXCL6</text>
<rect x="255.70" y="400.00" width="15.40" height="7.40" fill="none" stroke="#c63a60" stroke-width="0.75" rx="1.2"/>
<text x="263.40" y="405.30" font-size="4.6" fill="#b8304f" text-anchor="middle" textLength="12.60" lengthAdjust="spacingAndGlyphs">S100A8</text>
<rect x="251.20" y="410.80" width="15.20" height="7.00" fill="none" stroke="#c63a60" stroke-width="0.75" rx="1.2"/>
<text x="258.80" y="415.90" font-size="4.6" fill="#b8304f" text-anchor="middle" textLength="12.40" lengthAdjust="spacingAndGlyphs">S100A9</text>
<path d="M341.63 261.30 L341.61 284.81 L341.58 305.32 L341.55 323.22 L341.51 338.84 L341.47 352.47 L341.42 364.37 L341.36 374.74 L341.30 383.80 L341.23 391.70 L341.14 398.59 L341.05 404.61 L340.94 409.86 L340.81 414.44 L340.67 418.43 L340.50 421.92 L340.31 424.96 L340.09 427.62 L339.85 429.94 L339.56 431.96 L339.23 433.72 L338.86 435.26 L338.43 436.60 L337.94 437.78 L337.37 438.80 L336.73 439.69 L335.99 440.47 L335.14 441.15 L334.16 441.74 L333.05 442.26 L331.77 442.71 L330.31 443.10 L328.63 443.45 L326.70 443.75 L324.50 444.01 L321.97 444.24 L319.08 444.44 L315.76 444.61 L311.95 444.76 L307.60 444.89 L302.60 445.01" stroke="#3a3a3a" stroke-width="0.9" fill="none" stroke-linejoin="round"/>
<path d="M350.57 261.30 L350.59 284.85 L350.62 305.40 L350.65 323.32 L350.69 338.95 L350.73 352.59 L350.78 364.49 L350.84 374.87 L350.90 383.92 L350.97 391.82 L351.06 398.71 L351.15 404.72 L351.27 409.97 L351.39 414.54 L351.54 418.53 L351.70 422.01 L351.89 425.05 L352.11 427.70 L352.36 430.01 L352.65 432.02 L352.98 433.78 L353.36 435.32 L353.79 436.65 L354.29 437.82 L354.85 438.84 L355.51 439.73 L356.25 440.50 L357.11 441.18 L358.09 441.77 L359.22 442.28 L360.51 442.73 L361.99 443.12 L363.68 443.47 L365.62 443.76 L367.85 444.02 L370.41 444.25 L373.33 444.45 L376.69 444.62 L380.54 444.77 L384.95 444.90 L390.00 445.02" stroke="#3a3a3a" stroke-width="0.9" fill="none" stroke-linejoin="round"/>
<line x1="302.60" y1="261.30" x2="302.60" y2="477.00" stroke="#2a2a2a" stroke-width="1.7"/>
<line x1="301.80" y1="476.20" x2="392.60" y2="476.20" stroke="#2a2a2a" stroke-width="1.7"/>
<line x1="299.80" y1="466.20" x2="302.60" y2="466.20" stroke="#2a2a2a" stroke-width="1.0"/>
<text x="296.60" y="468.10" font-size="5.4" fill="#2b2b2b" text-anchor="end" stroke="#2b2b2b" stroke-width="0.15">0</text>
<line x1="299.80" y1="401.20" x2="302.60" y2="401.20" stroke="#2a2a2a" stroke-width="1.0"/>
<text x="296.60" y="403.10" font-size="5.4" fill="#2b2b2b" text-anchor="end" stroke="#2b2b2b" stroke-width="0.15">10</text>
<line x1="299.80" y1="336.20" x2="302.60" y2="336.20" stroke="#2a2a2a" stroke-width="1.0"/>
<text x="296.60" y="338.10" font-size="5.4" fill="#2b2b2b" text-anchor="end" stroke="#2b2b2b" stroke-width="0.15">20</text>
<line x1="299.80" y1="271.20" x2="302.60" y2="271.20" stroke="#2a2a2a" stroke-width="1.0"/>
<text x="296.60" y="273.10" font-size="5.4" fill="#2b2b2b" text-anchor="end" stroke="#2b2b2b" stroke-width="0.15">30</text>
<line x1="302.70" y1="476.20" x2="302.70" y2="478.80" stroke="#2a2a2a" stroke-width="1.0"/>
<text x="302.70" y="487.80" font-size="5.4" fill="#2b2b2b" text-anchor="middle" stroke="#2b2b2b" stroke-width="0.15">-5</text>
<line x1="324.60" y1="476.20" x2="324.60" y2="478.80" stroke="#2a2a2a" stroke-width="1.0"/>
<text x="324.60" y="487.80" font-size="5.4" fill="#2b2b2b" text-anchor="middle" stroke="#2b2b2b" stroke-width="0.15">-2.5</text>
<line x1="346.50" y1="476.20" x2="346.50" y2="478.80" stroke="#2a2a2a" stroke-width="1.0"/>
<text x="346.50" y="487.80" font-size="5.4" fill="#2b2b2b" text-anchor="middle" stroke="#2b2b2b" stroke-width="0.15">0</text>
<line x1="368.40" y1="476.20" x2="368.40" y2="478.80" stroke="#2a2a2a" stroke-width="1.0"/>
<text x="368.40" y="487.80" font-size="5.4" fill="#2b2b2b" text-anchor="middle" stroke="#2b2b2b" stroke-width="0.15">2.5</text>
<line x1="390.30" y1="476.20" x2="390.30" y2="478.80" stroke="#2a2a2a" stroke-width="1.0"/>
<text x="390.30" y="487.80" font-size="5.4" fill="#2b2b2b" text-anchor="middle" stroke="#2b2b2b" stroke-width="0.15">5</text>
<text x="340.25" y="499.60" font-size="7.8" fill="#2b2b2b" textLength="15.70" lengthAdjust="spacingAndGlyphs" stroke="#2b2b2b" stroke-width="0.15">LogFC</text>
<circle cx="348.82" cy="450.73" r="0.85" fill="#5f6f8f" fill-opacity="0.9"/>
<circle cx="349.98" cy="430.55" r="0.85" fill="#5f6f8f" fill-opacity="0.9"/>
<circle cx="351.34" cy="437.63" r="0.85" fill="#5f6f8f" fill-opacity="0.9"/>
<circle cx="345.80" cy="462.31" r="0.85" fill="#5f6f8f" fill-opacity="0.9"/>
<circle cx="347.75" cy="450.78" r="0.85" fill="#5f6f8f" fill-opacity="0.9"/>
<circle cx="345.03" cy="455.33" r="0.85" fill="#5f6f8f" fill-opacity="0.9"/>
<circle cx="348.16" cy="455.08" r="0.85" fill="#5f6f8f" fill-opacity="0.9"/>
<circle cx="345.36" cy="464.69" r="0.85" fill="#5f6f8f" fill-opacity="0.9"/>
<circle cx="347.53" cy="456.96" r="0.85" fill="#5f6f8f" fill-opacity="0.9"/>
<circle cx="349.02" cy="453.87" r="0.85" fill="#5f6f8f" fill-opacity="0.9"/>
<circle cx="340.80" cy="433.03" r="0.85" fill="#5f6f8f" fill-opacity="0.9"/>
<circle cx="348.55" cy="447.79" r="0.85" fill="#5f6f8f" fill-opacity="0.9"/>
<circle cx="341.74" cy="420.09" r="0.85" fill="#5f6f8f" fill-opacity="0.9"/>
<circle cx="351.42" cy="423.18" r="0.85" fill="#5f6f8f" fill-opacity="0.9"/>
<circle cx="347.40" cy="462.48" r="0.85" fill="#5f6f8f" fill-opacity="0.9"/>
<circle cx="344.46" cy="462.31" r="0.85" fill="#5f6f8f" fill-opacity="0.9"/>
<circle cx="348.30" cy="461.67" r="0.85" fill="#5f6f8f" fill-opacity="0.9"/>
<circle cx="346.18" cy="465.61" r="0.85" fill="#5f6f8f" fill-opacity="0.9"/>
<circle cx="351.63" cy="431.22" r="0.85" fill="#5f6f8f" fill-opacity="0.9"/>
<circle cx="350.26" cy="438.75" r="0.85" fill="#5f6f8f" fill-opacity="0.9"/>
<circle cx="346.57" cy="462.87" r="0.85" fill="#5f6f8f" fill-opacity="0.9"/>
<circle cx="345.33" cy="433.93" r="0.85" fill="#5f6f8f" fill-opacity="0.9"/>
<circle cx="347.13" cy="452.57" r="0.85" fill="#5f6f8f" fill-opacity="0.9"/>
<circle cx="342.85" cy="442.22" r="0.85" fill="#5f6f8f" fill-opacity="0.9"/>
<circle cx="350.08" cy="446.15" r="0.85" fill="#5f6f8f" fill-opacity="0.9"/>
<circle cx="350.96" cy="414.78" r="0.85" fill="#5f6f8f" fill-opacity="0.9"/>
<circle cx="349.68" cy="445.44" r="0.85" fill="#5f6f8f" fill-opacity="0.9"/>
<circle cx="348.23" cy="450.60" r="0.85" fill="#5f6f8f" fill-opacity="0.9"/>
<circle cx="346.34" cy="463.82" r="0.85" fill="#5f6f8f" fill-opacity="0.9"/>
<circle cx="345.77" cy="457.89" r="0.85" fill="#5f6f8f" fill-opacity="0.9"/>
<circle cx="345.11" cy="456.85" r="0.85" fill="#5f6f8f" fill-opacity="0.9"/>
<circle cx="345.48" cy="460.54" r="0.85" fill="#5f6f8f" fill-opacity="0.9"/>
<circle cx="342.05" cy="441.57" r="0.85" fill="#5f6f8f" fill-opacity="0.9"/>
<circle cx="342.26" cy="447.20" r="0.85" fill="#5f6f8f" fill-opacity="0.9"/>
<circle cx="342.84" cy="446.33" r="0.85" fill="#5f6f8f" fill-opacity="0.9"/>
<circle cx="350.06" cy="425.16" r="0.85" fill="#5f6f8f" fill-opacity="0.9"/>
<circle cx="350.88" cy="411.82" r="0.85" fill="#5f6f8f" fill-opacity="0.9"/>
<circle cx="351.70" cy="439.35" r="0.85" fill="#5f6f8f" fill-opacity="0.9"/>
<circle cx="350.17" cy="447.90" r="0.85" fill="#5f6f8f" fill-opacity="0.9"/>
<circle cx="346.00" cy="461.68" r="0.85" fill="#5f6f8f" fill-opacity="0.9"/>
<circle cx="343.81" cy="409.04" r="0.85" fill="#5f6f8f" fill-opacity="0.9"/>
<circle cx="349.63" cy="447.38" r="0.85" fill="#5f6f8f" fill-opacity="0.9"/>
<circle cx="346.97" cy="463.92" r="0.85" fill="#5f6f8f" fill-opacity="0.9"/>
<circle cx="348.61" cy="444.80" r="0.85" fill="#5f6f8f" fill-opacity="0.9"/>
<circle cx="346.52" cy="464.58" r="0.85" fill="#5f6f8f" fill-opacity="0.9"/>
<circle cx="349.77" cy="446.49" r="0.85" fill="#5f6f8f" fill-opacity="0.9"/>
<circle cx="350.51" cy="412.17" r="0.85" fill="#5f6f8f" fill-opacity="0.9"/>
<circle cx="350.08" cy="435.27" r="0.85" fill="#5f6f8f" fill-opacity="0.9"/>
<circle cx="350.37" cy="432.51" r="0.85" fill="#5f6f8f" fill-opacity="0.9"/>
<circle cx="351.91" cy="411.72" r="0.85" fill="#5f6f8f" fill-opacity="0.9"/>
<circle cx="341.75" cy="412.33" r="0.85" fill="#5f6f8f" fill-opacity="0.9"/>
<circle cx="351.02" cy="442.12" r="0.85" fill="#5f6f8f" fill-opacity="0.9"/>
<circle cx="348.23" cy="454.55" r="0.85" fill="#5f6f8f" fill-opacity="0.9"/>
<circle cx="341.94" cy="440.18" r="0.85" fill="#5f6f8f" fill-opacity="0.9"/>
<circle cx="343.03" cy="418.83" r="0.85" fill="#5f6f8f" fill-opacity="0.9"/>
<circle cx="348.90" cy="450.57" r="0.85" fill="#5f6f8f" fill-opacity="0.9"/>
<circle cx="350.41" cy="439.63" r="0.85" fill="#5f6f8f" fill-opacity="0.9"/>
<circle cx="347.24" cy="462.91" r="0.85" fill="#5f6f8f" fill-opacity="0.9"/>
<circle cx="349.31" cy="458.08" r="0.85" fill="#5f6f8f" fill-opacity="0.9"/>
<circle cx="344.40" cy="454.60" r="0.85" fill="#5f6f8f" fill-opacity="0.9"/>
<circle cx="350.62" cy="407.11" r="0.85" fill="#5f6f8f" fill-opacity="0.9"/>
<circle cx="342.81" cy="442.16" r="0.85" fill="#5f6f8f" fill-opacity="0.9"/>
<circle cx="342.26" cy="429.71" r="0.85" fill="#5f6f8f" fill-opacity="0.9"/>
<circle cx="347.26" cy="453.94" r="0.85" fill="#5f6f8f" fill-opacity="0.9"/>
<circle cx="344.93" cy="457.66" r="0.85" fill="#5f6f8f" fill-opacity="0.9"/>
<circle cx="344.91" cy="453.69" r="0.85" fill="#5f6f8f" fill-opacity="0.9"/>
<circle cx="342.64" cy="406.39" r="0.85" fill="#5f6f8f" fill-opacity="0.9"/>
<circle cx="341.94" cy="443.29" r="0.85" fill="#5f6f8f" fill-opacity="0.9"/>
<circle cx="350.62" cy="419.29" r="0.85" fill="#5f6f8f" fill-opacity="0.9"/>
<circle cx="343.23" cy="452.82" r="0.85" fill="#5f6f8f" fill-opacity="0.9"/>
<circle cx="341.61" cy="418.53" r="0.85" fill="#5f6f8f" fill-opacity="0.9"/>
<circle cx="349.16" cy="415.45" r="0.85" fill="#5f6f8f" fill-opacity="0.9"/>
<circle cx="341.45" cy="430.51" r="0.85" fill="#5f6f8f" fill-opacity="0.9"/>
<circle cx="341.60" cy="433.19" r="0.85" fill="#5f6f8f" fill-opacity="0.9"/>
<circle cx="347.99" cy="463.68" r="0.85" fill="#5f6f8f" fill-opacity="0.9"/>
<circle cx="342.01" cy="411.99" r="0.85" fill="#5f6f8f" fill-opacity="0.9"/>
<circle cx="349.34" cy="448.39" r="0.85" fill="#5f6f8f" fill-opacity="0.9"/>
<circle cx="350.76" cy="441.10" r="0.85" fill="#5f6f8f" fill-opacity="0.9"/>
<circle cx="343.69" cy="446.83" r="0.85" fill="#5f6f8f" fill-opacity="0.9"/>
<circle cx="346.72" cy="459.16" r="0.85" fill="#5f6f8f" fill-opacity="0.9"/>
<circle cx="344.71" cy="452.46" r="0.85" fill="#5f6f8f" fill-opacity="0.9"/>
<circle cx="350.52" cy="449.25" r="0.85" fill="#5f6f8f" fill-opacity="0.9"/>
<circle cx="343.11" cy="420.90" r="0.85" fill="#5f6f8f" fill-opacity="0.9"/>
<circle cx="351.17" cy="410.07" r="0.85" fill="#5f6f8f" fill-opacity="0.9"/>
<circle cx="349.64" cy="419.05" r="0.85" fill="#5f6f8f" fill-opacity="0.9"/>
<circle cx="341.27" cy="422.70" r="0.85" fill="#5f6f8f" fill-opacity="0.9"/>
<circle cx="351.46" cy="432.08" r="0.85" fill="#5f6f8f" fill-opacity="0.9"/>
<circle cx="343.23" cy="448.71" r="0.85" fill="#5f6f8f" fill-opacity="0.9"/>
<circle cx="341.59" cy="439.79" r="0.85" fill="#5f6f8f" fill-opacity="0.9"/>
<circle cx="342.95" cy="421.29" r="0.85" fill="#5f6f8f" fill-opacity="0.9"/>
<circle cx="346.08" cy="464.14" r="0.85" fill="#5f6f8f" fill-opacity="0.9"/>
<circle cx="341.37" cy="431.60" r="0.85" fill="#5f6f8f" fill-opacity="0.9"/>
<circle cx="343.53" cy="418.22" r="0.85" fill="#5f6f8f" fill-opacity="0.9"/>
<circle cx="342.13" cy="432.73" r="0.85" fill="#5f6f8f" fill-opacity="0.9"/>
<circle cx="348.25" cy="456.31" r="0.85" fill="#5f6f8f" fill-opacity="0.9"/>
<circle cx="343.76" cy="449.85" r="0.85" fill="#5f6f8f" fill-opacity="0.9"/>
<circle cx="341.11" cy="413.05" r="0.85" fill="#5f6f8f" fill-opacity="0.9"/>
<circle cx="351.30" cy="430.05" r="0.85" fill="#5f6f8f" fill-opacity="0.9"/>
<circle cx="349.94" cy="437.26" r="0.85" fill="#5f6f8f" fill-opacity="0.9"/>
<circle cx="347.50" cy="454.43" r="0.85" fill="#5f6f8f" fill-opacity="0.9"/>
<circle cx="340.38" cy="444.51" r="0.85" fill="#5f6f8f" fill-opacity="0.9"/>
<circle cx="350.19" cy="442.00" r="0.85" fill="#5f6f8f" fill-opacity="0.9"/>
<circle cx="342.47" cy="442.82" r="0.85" fill="#5f6f8f" fill-opacity="0.9"/>
<circle cx="346.34" cy="462.85" r="0.85" fill="#5f6f8f" fill-opacity="0.9"/>
<circle cx="342.52" cy="444.33" r="0.85" fill="#5f6f8f" fill-opacity="0.9"/>
<circle cx="350.59" cy="411.26" r="0.85" fill="#5f6f8f" fill-opacity="0.9"/>
<circle cx="345.72" cy="462.46" r="0.85" fill="#5f6f8f" fill-opacity="0.9"/>
<circle cx="344.85" cy="463.98" r="0.85" fill="#5f6f8f" fill-opacity="0.9"/>
<circle cx="341.13" cy="420.43" r="0.85" fill="#5f6f8f" fill-opacity="0.9"/>
<circle cx="345.00" cy="452.17" r="0.85" fill="#5f6f8f" fill-opacity="0.9"/>
<circle cx="347.26" cy="456.03" r="0.85" fill="#5f6f8f" fill-opacity="0.9"/>
<circle cx="349.51" cy="450.68" r="0.85" fill="#5f6f8f" fill-opacity="0.9"/>
<circle cx="348.25" cy="455.02" r="0.85" fill="#5f6f8f" fill-opacity="0.9"/>
<circle cx="349.98" cy="440.61" r="0.85" fill="#5f6f8f" fill-opacity="0.9"/>
<circle cx="348.62" cy="445.56" r="0.85" fill="#5f6f8f" fill-opacity="0.9"/>
<circle cx="348.21" cy="459.12" r="0.85" fill="#5f6f8f" fill-opacity="0.9"/>
<circle cx="351.37" cy="431.88" r="0.85" fill="#5f6f8f" fill-opacity="0.9"/>
<circle cx="342.41" cy="440.03" r="0.85" fill="#5f6f8f" fill-opacity="0.9"/>
<circle cx="350.15" cy="418.18" r="0.85" fill="#5f6f8f" fill-opacity="0.9"/>
<circle cx="350.22" cy="436.04" r="0.85" fill="#5f6f8f" fill-opacity="0.9"/>
<circle cx="345.25" cy="456.42" r="0.85" fill="#5f6f8f" fill-opacity="0.9"/>
<circle cx="348.40" cy="450.91" r="0.85" fill="#5f6f8f" fill-opacity="0.9"/>
<circle cx="347.08" cy="455.89" r="0.85" fill="#5f6f8f" fill-opacity="0.9"/>
<circle cx="341.96" cy="440.22" r="0.85" fill="#5f6f8f" fill-opacity="0.9"/>
<circle cx="341.30" cy="431.09" r="0.85" fill="#5f6f8f" fill-opacity="0.9"/>
<circle cx="347.60" cy="451.96" r="0.85" fill="#5f6f8f" fill-opacity="0.9"/>
<circle cx="343.96" cy="452.88" r="0.85" fill="#5f6f8f" fill-opacity="0.9"/>
<circle cx="341.03" cy="442.36" r="0.85" fill="#5f6f8f" fill-opacity="0.9"/>
<circle cx="351.46" cy="427.60" r="0.85" fill="#5f6f8f" fill-opacity="0.9"/>
<circle cx="349.82" cy="415.82" r="0.85" fill="#5f6f8f" fill-opacity="0.9"/>
<circle cx="345.45" cy="463.96" r="0.85" fill="#5f6f8f" fill-opacity="0.9"/>
<circle cx="350.42" cy="435.35" r="0.85" fill="#5f6f8f" fill-opacity="0.9"/>
<circle cx="346.78" cy="463.70" r="0.85" fill="#5f6f8f" fill-opacity="0.9"/>
<circle cx="345.02" cy="463.09" r="0.85" fill="#5f6f8f" fill-opacity="0.9"/>
<circle cx="343.33" cy="410.77" r="0.85" fill="#5f6f8f" fill-opacity="0.9"/>
<circle cx="350.62" cy="431.29" r="0.85" fill="#5f6f8f" fill-opacity="0.9"/>
<circle cx="346.53" cy="450.63" r="0.85" fill="#5f6f8f" fill-opacity="0.9"/>
<circle cx="350.38" cy="425.98" r="0.85" fill="#5f6f8f" fill-opacity="0.9"/>
<circle cx="351.55" cy="417.90" r="0.85" fill="#5f6f8f" fill-opacity="0.9"/>
<circle cx="345.46" cy="459.13" r="0.85" fill="#5f6f8f" fill-opacity="0.9"/>
<circle cx="346.88" cy="460.27" r="0.85" fill="#5f6f8f" fill-opacity="0.9"/>
<circle cx="349.61" cy="436.34" r="0.85" fill="#5f6f8f" fill-opacity="0.9"/>
<circle cx="348.94" cy="407.12" r="0.85" fill="#5f6f8f" fill-opacity="0.9"/>
<circle cx="344.10" cy="457.42" r="0.85" fill="#5f6f8f" fill-opacity="0.9"/>
<circle cx="341.00" cy="417.46" r="0.85" fill="#5f6f8f" fill-opacity="0.9"/>
<circle cx="348.40" cy="451.15" r="0.85" fill="#5f6f8f" fill-opacity="0.9"/>
<circle cx="349.31" cy="413.04" r="0.85" fill="#5f6f8f" fill-opacity="0.9"/>
<circle cx="347.72" cy="464.73" r="0.85" fill="#5f6f8f" fill-opacity="0.9"/>
<circle cx="350.62" cy="435.82" r="0.85" fill="#5f6f8f" fill-opacity="0.9"/>
<circle cx="342.27" cy="435.43" r="0.85" fill="#5f6f8f" fill-opacity="0.9"/>
<circle cx="346.14" cy="461.54" r="0.85" fill="#5f6f8f" fill-opacity="0.9"/>
<circle cx="345.47" cy="464.47" r="0.85" fill="#5f6f8f" fill-opacity="0.9"/>
<circle cx="346.26" cy="463.35" r="0.85" fill="#5f6f8f" fill-opacity="0.9"/>
<circle cx="351.10" cy="436.19" r="0.85" fill="#5f6f8f" fill-opacity="0.9"/>
<circle cx="341.30" cy="438.05" r="0.85" fill="#5f6f8f" fill-opacity="0.9"/>
<circle cx="350.88" cy="427.15" r="0.85" fill="#5f6f8f" fill-opacity="0.9"/>
<circle cx="343.94" cy="460.76" r="0.85" fill="#5f6f8f" fill-opacity="0.9"/>
<circle cx="341.82" cy="423.36" r="0.85" fill="#5f6f8f" fill-opacity="0.9"/>
<circle cx="343.37" cy="453.59" r="0.85" fill="#5f6f8f" fill-opacity="0.9"/>
<circle cx="350.00" cy="431.81" r="0.85" fill="#5f6f8f" fill-opacity="0.9"/>
<circle cx="346.72" cy="464.05" r="0.85" fill="#5f6f8f" fill-opacity="0.9"/>
<circle cx="350.55" cy="422.89" r="0.85" fill="#5f6f8f" fill-opacity="0.9"/>
<circle cx="350.01" cy="442.12" r="0.85" fill="#5f6f8f" fill-opacity="0.9"/>
<circle cx="349.13" cy="445.95" r="0.85" fill="#5f6f8f" fill-opacity="0.9"/>
<circle cx="343.31" cy="442.56" r="0.85" fill="#5f6f8f" fill-opacity="0.9"/>
<circle cx="343.06" cy="416.07" r="0.85" fill="#5f6f8f" fill-opacity="0.9"/>
<circle cx="343.39" cy="445.42" r="0.85" fill="#5f6f8f" fill-opacity="0.9"/>
<circle cx="345.58" cy="463.22" r="0.85" fill="#5f6f8f" fill-opacity="0.9"/>
<circle cx="341.22" cy="420.82" r="0.85" fill="#5f6f8f" fill-opacity="0.9"/>
<circle cx="349.93" cy="409.09" r="0.85" fill="#5f6f8f" fill-opacity="0.9"/>
<circle cx="357.75" cy="432.17" r="0.8" fill="#c03050"/>
<circle cx="352.05" cy="384.28" r="0.8" fill="#c03050"/>
<circle cx="362.17" cy="421.54" r="0.8" fill="#c03050"/>
<circle cx="353.70" cy="435.45" r="0.8" fill="#c03050"/>
<circle cx="354.30" cy="380.48" r="0.8" fill="#c03050"/>
<circle cx="352.58" cy="379.90" r="0.8" fill="#c03050"/>
<circle cx="361.55" cy="429.29" r="0.8" fill="#c03050"/>
<circle cx="356.47" cy="400.17" r="0.8" fill="#c03050"/>
<circle cx="355.15" cy="397.06" r="0.8" fill="#c03050"/>
<circle cx="352.44" cy="400.54" r="0.8" fill="#c03050"/>
<circle cx="354.15" cy="384.61" r="0.8" fill="#c03050"/>
<circle cx="365.00" cy="413.11" r="0.8" fill="#c03050"/>
<circle cx="362.52" cy="381.87" r="0.8" fill="#c03050"/>
<circle cx="354.61" cy="416.73" r="0.8" fill="#c03050"/>
<circle cx="354.72" cy="376.10" r="0.8" fill="#c03050"/>
<circle cx="354.49" cy="406.35" r="0.8" fill="#c03050"/>
<circle cx="359.10" cy="401.92" r="0.8" fill="#c03050"/>
<circle cx="354.23" cy="394.05" r="0.8" fill="#c03050"/>
<circle cx="353.49" cy="416.72" r="0.8" fill="#c03050"/>
<circle cx="352.19" cy="388.32" r="0.8" fill="#c03050"/>
<circle cx="352.63" cy="413.85" r="0.8" fill="#c03050"/>
<circle cx="355.77" cy="405.48" r="0.8" fill="#c03050"/>
<circle cx="352.25" cy="420.79" r="0.8" fill="#c03050"/>
<circle cx="358.01" cy="412.27" r="0.8" fill="#c03050"/>
<circle cx="356.14" cy="434.44" r="0.8" fill="#c03050"/>
<circle cx="356.14" cy="411.38" r="0.8" fill="#c03050"/>
<circle cx="352.71" cy="388.65" r="0.8" fill="#c03050"/>
<circle cx="363.48" cy="390.04" r="0.8" fill="#c03050"/>
<circle cx="363.40" cy="435.69" r="0.8" fill="#c03050"/>
<circle cx="351.72" cy="414.79" r="0.8" fill="#c03050"/>
<circle cx="351.87" cy="383.36" r="0.8" fill="#c03050"/>
<circle cx="351.64" cy="392.73" r="0.8" fill="#c03050"/>
<circle cx="352.41" cy="390.98" r="0.8" fill="#c03050"/>
<circle cx="351.46" cy="430.51" r="0.8" fill="#c03050"/>
<circle cx="352.32" cy="428.89" r="0.8" fill="#c03050"/>
<circle cx="353.49" cy="374.78" r="0.8" fill="#c03050"/>
<circle cx="358.71" cy="401.06" r="0.8" fill="#c03050"/>
<circle cx="352.01" cy="434.81" r="0.8" fill="#c03050"/>
<circle cx="352.41" cy="375.37" r="0.8" fill="#c03050"/>
<circle cx="352.19" cy="419.77" r="0.8" fill="#c03050"/>
<circle cx="351.02" cy="389.02" r="0.8" fill="#c03050"/>
<circle cx="358.67" cy="417.47" r="0.8" fill="#c03050"/>
<circle cx="354.54" cy="414.13" r="0.8" fill="#c03050"/>
<circle cx="358.48" cy="415.41" r="0.8" fill="#c03050"/>
<circle cx="355.23" cy="428.41" r="0.8" fill="#c03050"/>
<circle cx="355.11" cy="410.19" r="0.8" fill="#c03050"/>
<circle cx="352.04" cy="385.25" r="0.8" fill="#c03050"/>
<circle cx="351.53" cy="400.82" r="0.8" fill="#c03050"/>
<circle cx="352.20" cy="417.44" r="0.8" fill="#c03050"/>
<circle cx="360.01" cy="389.03" r="0.8" fill="#c03050"/>
<circle cx="353.04" cy="418.18" r="0.8" fill="#c03050"/>
<circle cx="351.68" cy="426.67" r="0.8" fill="#c03050"/>
<circle cx="353.64" cy="375.22" r="0.8" fill="#c03050"/>
<circle cx="358.82" cy="406.13" r="0.8" fill="#c03050"/>
<circle cx="355.33" cy="428.13" r="0.8" fill="#c03050"/>
<circle cx="360.00" cy="394.34" r="0.8" fill="#c03050"/>
<circle cx="351.04" cy="425.58" r="0.8" fill="#c03050"/>
<circle cx="360.55" cy="380.60" r="0.8" fill="#c03050"/>
<circle cx="352.16" cy="387.51" r="0.8" fill="#c03050"/>
<circle cx="356.04" cy="432.98" r="0.8" fill="#c03050"/>
<circle cx="336.60" cy="387.63" r="0.75" fill="#5f6f8f"/>
<circle cx="341.78" cy="394.69" r="0.75" fill="#5f6f8f"/>
<circle cx="336.64" cy="395.92" r="0.75" fill="#5f6f8f"/>
<circle cx="335.13" cy="416.52" r="0.75" fill="#5f6f8f"/>
<circle cx="337.96" cy="387.29" r="0.75" fill="#5f6f8f"/>
<circle cx="340.94" cy="394.70" r="0.75" fill="#5f6f8f"/>
<circle cx="342.92" cy="376.95" r="0.75" fill="#5f6f8f"/>
<circle cx="339.11" cy="425.62" r="0.75" fill="#5f6f8f"/>
<circle cx="340.83" cy="404.91" r="0.75" fill="#5f6f8f"/>
<circle cx="340.10" cy="381.41" r="0.75" fill="#5f6f8f"/>
<line x1="307.00" y1="277.20" x2="309.00" y2="280.00" stroke="#5a72a8" stroke-width="0.6"/>
<circle cx="309.00" cy="280.00" r="0.8" fill="#3a5590"/>
<line x1="322.00" y1="322.20" x2="322.00" y2="325.00" stroke="#5a72a8" stroke-width="0.6"/>
<circle cx="322.00" cy="325.00" r="0.8" fill="#3a5590"/>
<line x1="330.00" y1="337.20" x2="332.00" y2="340.00" stroke="#5a72a8" stroke-width="0.6"/>
<circle cx="332.00" cy="340.00" r="0.8" fill="#3a5590"/>
<line x1="328.00" y1="307.20" x2="326.00" y2="309.00" stroke="#5a72a8" stroke-width="0.6"/>
<circle cx="326.00" cy="309.00" r="0.8" fill="#3a5590"/>
<line x1="375.00" y1="271.90" x2="375.00" y2="274.00" stroke="#c63a60" stroke-width="0.6"/>
<circle cx="375.00" cy="274.00" r="0.8" fill="#b02040"/>
<line x1="367.00" y1="289.90" x2="367.00" y2="292.00" stroke="#c63a60" stroke-width="0.6"/>
<circle cx="367.00" cy="292.00" r="0.8" fill="#b02040"/>
<line x1="365.00" y1="311.20" x2="363.00" y2="313.00" stroke="#c63a60" stroke-width="0.6"/>
<circle cx="363.00" cy="313.00" r="0.8" fill="#b02040"/>
<line x1="380.00" y1="306.10" x2="385.00" y2="309.50" stroke="#c63a60" stroke-width="0.6"/>
<circle cx="385.00" cy="309.50" r="0.8" fill="#b02040"/>
<line x1="362.00" y1="322.00" x2="362.00" y2="327.00" stroke="#c63a60" stroke-width="0.6"/>
<circle cx="362.00" cy="327.00" r="0.8" fill="#b02040"/>
<line x1="350.00" y1="330.00" x2="356.00" y2="340.00" stroke="#c63a60" stroke-width="0.6"/>
<circle cx="356.00" cy="340.00" r="0.8" fill="#b02040"/>
<line x1="364.00" y1="335.00" x2="370.00" y2="342.00" stroke="#c63a60" stroke-width="0.6"/>
<circle cx="370.00" cy="342.00" r="0.8" fill="#b02040"/>
<line x1="350.00" y1="343.50" x2="353.00" y2="349.00" stroke="#c63a60" stroke-width="0.6"/>
<circle cx="353.00" cy="349.00" r="0.8" fill="#b02040"/>
<line x1="340.50" y1="351.00" x2="353.00" y2="349.00" stroke="#c63a60" stroke-width="0.6"/>
<circle cx="353.00" cy="349.00" r="0.8" fill="#b02040"/>
<line x1="370.00" y1="359.00" x2="362.00" y2="366.00" stroke="#c63a60" stroke-width="0.6"/>
<circle cx="362.00" cy="366.00" r="0.8" fill="#b02040"/>
<line x1="354.00" y1="362.00" x2="352.00" y2="368.00" stroke="#c63a60" stroke-width="0.6"/>
<circle cx="352.00" cy="368.00" r="0.8" fill="#b02040"/>
<line x1="358.00" y1="380.30" x2="356.00" y2="385.00" stroke="#c63a60" stroke-width="0.6"/>
<circle cx="356.00" cy="385.00" r="0.8" fill="#b02040"/>
<line x1="333.00" y1="393.00" x2="334.00" y2="396.00" stroke="#5a72a8" stroke-width="0.6"/>
<circle cx="334.00" cy="396.00" r="0.8" fill="#3a5590"/>
<line x1="338.00" y1="426.90" x2="339.00" y2="430.00" stroke="#5a72a8" stroke-width="0.6"/>
<circle cx="339.00" cy="430.00" r="0.8" fill="#3a5590"/>
<rect x="300.80" y="270.80" width="12.20" height="6.40" fill="none" stroke="#5a72a8" stroke-width="0.75" rx="1.2"/>
<text x="306.90" y="275.60" font-size="4.6" fill="#3f5a92" text-anchor="middle" textLength="9.40" lengthAdjust="spacingAndGlyphs">PPBP</text>
<rect x="299.20" y="284.20" width="20.50" height="6.90" fill="none" stroke="#5a72a8" stroke-width="0.75" rx="1.2"/>
<text x="309.45" y="289.25" font-size="4.6" fill="#3f5a92" text-anchor="middle" textLength="17.70" lengthAdjust="spacingAndGlyphs">SERPINB2</text>
<rect x="320.40" y="300.80" width="15.00" height="6.40" fill="none" stroke="#5a72a8" stroke-width="0.75" rx="1.2"/>
<text x="327.90" y="305.60" font-size="4.6" fill="#3f5a92" text-anchor="middle" textLength="12.20" lengthAdjust="spacingAndGlyphs">HBEGF</text>
<rect x="316.50" y="315.80" width="23.50" height="6.40" fill="none" stroke="#5a72a8" stroke-width="0.75" rx="1.2"/>
<text x="328.25" y="320.60" font-size="4.6" fill="#3f5a92" text-anchor="middle" textLength="18.41" lengthAdjust="spacingAndGlyphs">ADAM19</text>
<rect x="323.20" y="329.60" width="12.20" height="7.60" fill="none" stroke="#5a72a8" stroke-width="0.75" rx="1.2"/>
<text x="329.30" y="335.00" font-size="4.6" fill="#3f5a92" text-anchor="middle" textLength="9.40" lengthAdjust="spacingAndGlyphs">GPC1</text>
<rect x="308.20" y="341.20" width="18.60" height="6.40" fill="none" stroke="#5a72a8" stroke-width="0.75" rx="1.2"/>
<text x="317.50" y="346.00" font-size="4.6" fill="#3f5a92" text-anchor="middle" textLength="15.80" lengthAdjust="spacingAndGlyphs">ANGPTL2</text>
<rect x="366.50" y="265.00" width="16.20" height="6.90" fill="none" stroke="#c63a60" stroke-width="0.75" rx="1.2"/>
<text x="374.60" y="270.05" font-size="4.6" fill="#b8304f" text-anchor="middle" textLength="13.40" lengthAdjust="spacingAndGlyphs">PIK3IP1</text>
<rect x="358.50" y="283.50" width="18.40" height="6.40" fill="none" stroke="#c63a60" stroke-width="0.75" rx="1.2"/>
<text x="367.70" y="288.30" font-size="4.6" fill="#b8304f" text-anchor="middle" textLength="15.60" lengthAdjust="spacingAndGlyphs">CLEC11A</text>
<rect x="348.80" y="293.80" width="15.40" height="6.50" fill="none" stroke="#c63a60" stroke-width="0.75" rx="1.2"/>
<text x="356.50" y="298.65" font-size="4.6" fill="#b8304f" text-anchor="middle" textLength="12.60" lengthAdjust="spacingAndGlyphs">SLAMF8</text>
<rect x="368.90" y="299.60" width="13.80" height="6.50" fill="none" stroke="#c63a60" stroke-width="0.75" rx="1.2"/>
<text x="375.80" y="304.45" font-size="4.6" fill="#b8304f" text-anchor="middle" textLength="11.00" lengthAdjust="spacingAndGlyphs">EGFL6</text>
<rect x="346.50" y="304.20" width="18.90" height="7.00" fill="none" stroke="#c63a60" stroke-width="0.75" rx="1.2"/>
<text x="355.95" y="309.30" font-size="4.6" fill="#b8304f" text-anchor="middle" textLength="16.10" lengthAdjust="spacingAndGlyphs">C1QTNF1</text>
<rect x="378.80" y="309.50" width="13.20" height="7.00" fill="none" stroke="#c63a60" stroke-width="0.75" rx="1.2"/>
<text x="385.40" y="314.60" font-size="4.6" fill="#b8304f" text-anchor="middle" textLength="10.40" lengthAdjust="spacingAndGlyphs">IL1RN</text>
<rect x="344.60" y="315.30" width="15.00" height="6.70" fill="none" stroke="#c63a60" stroke-width="0.75" rx="1.2"/>
<text x="352.10" y="320.25" font-size="4.6" fill="#b8304f" text-anchor="middle" textLength="12.20" lengthAdjust="spacingAndGlyphs">MMP11</text>
<rect x="360.80" y="315.30" width="10.40" height="6.70" fill="none" stroke="#c63a60" stroke-width="0.75" rx="1.2"/>
<text x="366.00" y="320.25" font-size="4.6" fill="#b8304f" text-anchor="middle" textLength="7.60" lengthAdjust="spacingAndGlyphs">HGF</text>
<rect x="373.50" y="320.40" width="13.10" height="6.90" fill="none" stroke="#c63a60" stroke-width="0.75" rx="1.2"/>
<text x="380.05" y="325.45" font-size="4.6" fill="#b8304f" text-anchor="middle" textLength="10.30" lengthAdjust="spacingAndGlyphs">SFRP4</text>
<rect x="337.70" y="326.90" width="12.70" height="6.20" fill="none" stroke="#c63a60" stroke-width="0.75" rx="1.2"/>
<text x="344.05" y="331.60" font-size="4.6" fill="#b8304f" text-anchor="middle" textLength="9.90" lengthAdjust="spacingAndGlyphs">CTSO</text>
<rect x="352.70" y="328.50" width="17.80" height="6.40" fill="none" stroke="#c63a60" stroke-width="0.75" rx="1.2"/>
<text x="361.60" y="333.30" font-size="4.6" fill="#b8304f" text-anchor="middle" textLength="15.00" lengthAdjust="spacingAndGlyphs">COLEC12</text>
<rect x="373.50" y="330.80" width="10.40" height="7.40" fill="none" stroke="#c63a60" stroke-width="0.75" rx="1.2"/>
<text x="378.70" y="336.10" font-size="4.6" fill="#b8304f" text-anchor="middle" textLength="7.60" lengthAdjust="spacingAndGlyphs">TIMP1</text>
<rect x="337.70" y="337.20" width="12.20" height="6.30" fill="none" stroke="#c63a60" stroke-width="0.75" rx="1.2"/>
<text x="343.80" y="341.95" font-size="4.6" fill="#b8304f" text-anchor="middle" textLength="9.40" lengthAdjust="spacingAndGlyphs">CTSF</text>
<rect x="362.60" y="341.20" width="13.20" height="6.20" fill="none" stroke="#c63a60" stroke-width="0.75" rx="1.2"/>
<text x="369.20" y="345.90" font-size="4.6" fill="#b8304f" text-anchor="middle" textLength="10.40" lengthAdjust="spacingAndGlyphs">HTRA3</text>
<rect x="376.50" y="341.20" width="17.70" height="6.20" fill="none" stroke="#c63a60" stroke-width="0.75" rx="1.2"/>
<text x="385.35" y="345.90" font-size="4.6" fill="#b8304f" text-anchor="middle" textLength="14.90" lengthAdjust="spacingAndGlyphs">ANGPTL7</text>
<rect x="329.20" y="347.40" width="11.30" height="6.90" fill="none" stroke="#c63a60" stroke-width="0.75" rx="1.2"/>
<text x="334.85" y="352.45" font-size="4.6" fill="#b8304f" text-anchor="middle" textLength="8.50" lengthAdjust="spacingAndGlyphs">CTSA</text>
<rect x="352.00" y="345.80" width="9.90" height="6.20" fill="none" stroke="#c63a60" stroke-width="0.75" rx="1.2"/>
<text x="356.95" y="350.50" font-size="4.6" fill="#b8304f" text-anchor="middle" textLength="7.10" lengthAdjust="spacingAndGlyphs">ITIH5</text>
<rect x="364.90" y="352.70" width="10.20" height="6.20" fill="none" stroke="#c63a60" stroke-width="0.75" rx="1.2"/>
<text x="370.00" y="357.40" font-size="4.6" fill="#b8304f" text-anchor="middle" textLength="7.40" lengthAdjust="spacingAndGlyphs">CST3</text>
<rect x="376.50" y="352.70" width="16.60" height="6.20" fill="none" stroke="#c63a60" stroke-width="0.75" rx="1.2"/>
<text x="384.80" y="357.40" font-size="4.6" fill="#b8304f" text-anchor="middle" textLength="13.80" lengthAdjust="spacingAndGlyphs">ANGPTL1</text>
<rect x="344.20" y="355.00" width="10.10" height="6.90" fill="none" stroke="#c63a60" stroke-width="0.75" rx="1.2"/>
<text x="349.25" y="360.05" font-size="4.6" fill="#b8304f" text-anchor="middle" textLength="7.30" lengthAdjust="spacingAndGlyphs">CTSD</text>
<rect x="358.50" y="363.00" width="18.40" height="6.60" fill="none" stroke="#c63a60" stroke-width="0.75" rx="1.2"/>
<text x="367.70" y="367.90" font-size="4.6" fill="#b8304f" text-anchor="middle" textLength="15.60" lengthAdjust="spacingAndGlyphs">ANGPTL4</text>
<rect x="380.40" y="362.80" width="11.10" height="6.80" fill="none" stroke="#c63a60" stroke-width="0.75" rx="1.2"/>
<text x="385.95" y="367.80" font-size="4.6" fill="#b8304f" text-anchor="middle" textLength="8.30" lengthAdjust="spacingAndGlyphs">PLAT</text>
<rect x="339.50" y="366.50" width="10.90" height="6.90" fill="none" stroke="#c63a60" stroke-width="0.75" rx="1.2"/>
<text x="344.95" y="371.55" font-size="4.6" fill="#b8304f" text-anchor="middle" textLength="8.10" lengthAdjust="spacingAndGlyphs">TIMP3</text>
<rect x="352.20" y="373.80" width="11.30" height="6.50" fill="none" stroke="#c63a60" stroke-width="0.75" rx="1.2"/>
<text x="357.85" y="378.65" font-size="4.6" fill="#b8304f" text-anchor="middle" textLength="8.50" lengthAdjust="spacingAndGlyphs">ITIH2</text>
<rect x="325.00" y="386.50" width="16.20" height="6.50" fill="none" stroke="#5a72a8" stroke-width="0.75" rx="1.2"/>
<text x="333.10" y="391.35" font-size="4.6" fill="#3f5a92" text-anchor="middle" textLength="13.40" lengthAdjust="spacingAndGlyphs">CXCL6</text>
<rect x="330.80" y="419.50" width="15.00" height="7.40" fill="none" stroke="#5a72a8" stroke-width="0.75" rx="1.2"/>
<text x="338.30" y="424.80" font-size="4.6" fill="#3f5a92" text-anchor="middle" textLength="12.20" lengthAdjust="spacingAndGlyphs">S100A9</text>
<path d="M456.29 261.30 L456.26 282.55 L456.23 301.21 L456.19 317.57 L456.15 331.94 L456.10 344.54 L456.05 355.61 L455.98 365.31 L455.91 373.83 L455.83 381.31 L455.73 387.87 L455.63 393.63 L455.51 398.68 L455.37 403.12 L455.21 407.01 L455.03 410.42 L454.82 413.42 L454.59 416.05 L454.32 418.36 L454.02 420.38 L453.67 422.16 L453.28 423.72 L452.83 425.09 L452.32 426.29 L451.74 427.34 L451.07 428.27 L450.31 429.08 L449.45 429.79 L448.47 430.42 L447.35 430.97 L446.07 431.45 L444.61 431.87 L442.96 432.24 L441.07 432.57 L438.91 432.85 L436.46 433.10 L433.67 433.32 L430.48 433.52 L426.85 433.69 L422.71 433.83 L418.00 433.96" stroke="#3a3a3a" stroke-width="0.9" fill="none" stroke-linejoin="round"/>
<path d="M466.01 261.30 L466.04 282.62 L466.07 301.33 L466.11 317.73 L466.15 332.12 L466.20 344.75 L466.26 355.82 L466.32 365.53 L466.39 374.05 L466.47 381.53 L466.57 388.08 L466.68 393.83 L466.80 398.88 L466.94 403.30 L467.10 407.18 L467.28 410.59 L467.49 413.57 L467.72 416.19 L467.99 418.49 L468.30 420.51 L468.65 422.27 L469.05 423.82 L469.51 425.18 L470.02 426.38 L470.62 427.42 L471.29 428.34 L472.06 429.15 L472.94 429.85 L473.93 430.47 L475.07 431.02 L476.37 431.49 L477.85 431.91 L479.54 432.28 L481.46 432.60 L483.66 432.88 L486.16 433.13 L489.01 433.35 L492.26 433.54 L495.96 433.71 L500.19 433.85 L505.00 433.98" stroke="#3a3a3a" stroke-width="0.9" fill="none" stroke-linejoin="round"/>
<line x1="418.00" y1="261.30" x2="418.00" y2="477.00" stroke="#2a2a2a" stroke-width="1.7"/>
<line x1="417.20" y1="476.20" x2="507.80" y2="476.20" stroke="#2a2a2a" stroke-width="1.7"/>
<line x1="415.20" y1="466.20" x2="418.00" y2="466.20" stroke="#2a2a2a" stroke-width="1.0"/>
<text x="412.00" y="468.10" font-size="5.4" fill="#2b2b2b" text-anchor="end" stroke="#2b2b2b" stroke-width="0.15">0</text>
<line x1="415.20" y1="414.70" x2="418.00" y2="414.70" stroke="#2a2a2a" stroke-width="1.0"/>
<text x="412.00" y="416.60" font-size="5.4" fill="#2b2b2b" text-anchor="end" stroke="#2b2b2b" stroke-width="0.15">5</text>
<line x1="415.20" y1="363.20" x2="418.00" y2="363.20" stroke="#2a2a2a" stroke-width="1.0"/>
<text x="412.00" y="365.10" font-size="5.4" fill="#2b2b2b" text-anchor="end" stroke="#2b2b2b" stroke-width="0.15">10</text>
<line x1="415.20" y1="311.70" x2="418.00" y2="311.70" stroke="#2a2a2a" stroke-width="1.0"/>
<text x="412.00" y="313.60" font-size="5.4" fill="#2b2b2b" text-anchor="end" stroke="#2b2b2b" stroke-width="0.15">15</text>
<line x1="418.00" y1="476.20" x2="418.00" y2="478.80" stroke="#2a2a2a" stroke-width="1.0"/>
<text x="418.00" y="487.80" font-size="5.4" fill="#2b2b2b" text-anchor="middle" stroke="#2b2b2b" stroke-width="0.15">-5</text>
<line x1="439.70" y1="476.20" x2="439.70" y2="478.80" stroke="#2a2a2a" stroke-width="1.0"/>
<text x="439.70" y="487.80" font-size="5.4" fill="#2b2b2b" text-anchor="middle" stroke="#2b2b2b" stroke-width="0.15">-2.5</text>
<line x1="461.40" y1="476.20" x2="461.40" y2="478.80" stroke="#2a2a2a" stroke-width="1.0"/>
<text x="461.40" y="487.80" font-size="5.4" fill="#2b2b2b" text-anchor="middle" stroke="#2b2b2b" stroke-width="0.15">0</text>
<line x1="483.10" y1="476.20" x2="483.10" y2="478.80" stroke="#2a2a2a" stroke-width="1.0"/>
<text x="483.10" y="487.80" font-size="5.4" fill="#2b2b2b" text-anchor="middle" stroke="#2b2b2b" stroke-width="0.15">2.5</text>
<line x1="504.80" y1="476.20" x2="504.80" y2="478.80" stroke="#2a2a2a" stroke-width="1.0"/>
<text x="504.80" y="487.80" font-size="5.4" fill="#2b2b2b" text-anchor="middle" stroke="#2b2b2b" stroke-width="0.15">5</text>
<text x="454.95" y="499.60" font-size="7.8" fill="#2b2b2b" textLength="15.70" lengthAdjust="spacingAndGlyphs" stroke="#2b2b2b" stroke-width="0.15">LogFC</text>
<circle cx="456.40" cy="448.34" r="0.85" fill="#5f6f8f" fill-opacity="0.9"/>
<circle cx="464.34" cy="446.01" r="0.85" fill="#5f6f8f" fill-opacity="0.9"/>
<circle cx="464.39" cy="452.25" r="0.85" fill="#5f6f8f" fill-opacity="0.9"/>
<circle cx="461.95" cy="456.71" r="0.85" fill="#5f6f8f" fill-opacity="0.9"/>
<circle cx="454.73" cy="412.33" r="0.85" fill="#5f6f8f" fill-opacity="0.9"/>
<circle cx="456.08" cy="443.06" r="0.85" fill="#5f6f8f" fill-opacity="0.9"/>
<circle cx="465.66" cy="431.18" r="0.85" fill="#5f6f8f" fill-opacity="0.9"/>
<circle cx="455.07" cy="438.01" r="0.85" fill="#5f6f8f" fill-opacity="0.9"/>
<circle cx="455.30" cy="423.72" r="0.85" fill="#5f6f8f" fill-opacity="0.9"/>
<circle cx="462.39" cy="454.47" r="0.85" fill="#5f6f8f" fill-opacity="0.9"/>
<circle cx="465.58" cy="422.31" r="0.85" fill="#5f6f8f" fill-opacity="0.9"/>
<circle cx="462.40" cy="451.91" r="0.85" fill="#5f6f8f" fill-opacity="0.9"/>
<circle cx="466.84" cy="431.89" r="0.85" fill="#5f6f8f" fill-opacity="0.9"/>
<circle cx="456.38" cy="447.16" r="0.85" fill="#5f6f8f" fill-opacity="0.9"/>
<circle cx="456.01" cy="423.12" r="0.85" fill="#5f6f8f" fill-opacity="0.9"/>
<circle cx="455.11" cy="436.63" r="0.85" fill="#5f6f8f" fill-opacity="0.9"/>
<circle cx="459.90" cy="452.55" r="0.85" fill="#5f6f8f" fill-opacity="0.9"/>
<circle cx="461.86" cy="458.39" r="0.85" fill="#5f6f8f" fill-opacity="0.9"/>
<circle cx="456.26" cy="414.32" r="0.85" fill="#5f6f8f" fill-opacity="0.9"/>
<circle cx="456.13" cy="408.60" r="0.85" fill="#5f6f8f" fill-opacity="0.9"/>
<circle cx="466.85" cy="423.66" r="0.85" fill="#5f6f8f" fill-opacity="0.9"/>
<circle cx="465.90" cy="439.41" r="0.85" fill="#5f6f8f" fill-opacity="0.9"/>
<circle cx="461.60" cy="461.24" r="0.85" fill="#5f6f8f" fill-opacity="0.9"/>
<circle cx="457.92" cy="442.01" r="0.85" fill="#5f6f8f" fill-opacity="0.9"/>
<circle cx="456.32" cy="428.85" r="0.85" fill="#5f6f8f" fill-opacity="0.9"/>
<circle cx="454.78" cy="418.11" r="0.85" fill="#5f6f8f" fill-opacity="0.9"/>
<circle cx="465.52" cy="428.32" r="0.85" fill="#5f6f8f" fill-opacity="0.9"/>
<circle cx="465.53" cy="448.67" r="0.85" fill="#5f6f8f" fill-opacity="0.9"/>
<circle cx="461.96" cy="458.29" r="0.85" fill="#5f6f8f" fill-opacity="0.9"/>
<circle cx="466.54" cy="434.52" r="0.85" fill="#5f6f8f" fill-opacity="0.9"/>
<circle cx="454.69" cy="442.60" r="0.85" fill="#5f6f8f" fill-opacity="0.9"/>
<circle cx="467.49" cy="434.14" r="0.85" fill="#5f6f8f" fill-opacity="0.9"/>
<circle cx="457.98" cy="450.94" r="0.85" fill="#5f6f8f" fill-opacity="0.9"/>
<circle cx="458.44" cy="454.71" r="0.85" fill="#5f6f8f" fill-opacity="0.9"/>
<circle cx="465.10" cy="421.44" r="0.85" fill="#5f6f8f" fill-opacity="0.9"/>
<circle cx="467.70" cy="416.91" r="0.85" fill="#5f6f8f" fill-opacity="0.9"/>
<circle cx="466.90" cy="423.41" r="0.85" fill="#5f6f8f" fill-opacity="0.9"/>
<circle cx="459.91" cy="460.46" r="0.85" fill="#5f6f8f" fill-opacity="0.9"/>
<circle cx="466.12" cy="427.32" r="0.85" fill="#5f6f8f" fill-opacity="0.9"/>
<circle cx="456.66" cy="452.90" r="0.85" fill="#5f6f8f" fill-opacity="0.9"/>
<circle cx="455.72" cy="441.91" r="0.85" fill="#5f6f8f" fill-opacity="0.9"/>
<circle cx="456.17" cy="434.04" r="0.85" fill="#5f6f8f" fill-opacity="0.9"/>
<circle cx="454.89" cy="436.29" r="0.85" fill="#5f6f8f" fill-opacity="0.9"/>
<circle cx="455.96" cy="444.17" r="0.85" fill="#5f6f8f" fill-opacity="0.9"/>
<circle cx="459.51" cy="463.35" r="0.85" fill="#5f6f8f" fill-opacity="0.9"/>
<circle cx="457.23" cy="448.38" r="0.85" fill="#5f6f8f" fill-opacity="0.9"/>
<circle cx="462.97" cy="454.89" r="0.85" fill="#5f6f8f" fill-opacity="0.9"/>
<circle cx="461.82" cy="464.15" r="0.85" fill="#5f6f8f" fill-opacity="0.9"/>
<circle cx="464.61" cy="419.89" r="0.85" fill="#5f6f8f" fill-opacity="0.9"/>
<circle cx="457.07" cy="444.03" r="0.85" fill="#5f6f8f" fill-opacity="0.9"/>
<circle cx="456.12" cy="408.43" r="0.85" fill="#5f6f8f" fill-opacity="0.9"/>
<circle cx="461.54" cy="461.86" r="0.85" fill="#5f6f8f" fill-opacity="0.9"/>
<circle cx="459.41" cy="464.29" r="0.85" fill="#5f6f8f" fill-opacity="0.9"/>
<circle cx="455.11" cy="409.08" r="0.85" fill="#5f6f8f" fill-opacity="0.9"/>
<circle cx="465.24" cy="442.77" r="0.85" fill="#5f6f8f" fill-opacity="0.9"/>
<circle cx="454.44" cy="426.41" r="0.85" fill="#5f6f8f" fill-opacity="0.9"/>
<circle cx="455.25" cy="425.50" r="0.85" fill="#5f6f8f" fill-opacity="0.9"/>
<circle cx="464.37" cy="433.80" r="0.85" fill="#5f6f8f" fill-opacity="0.9"/>
<circle cx="458.79" cy="454.88" r="0.85" fill="#5f6f8f" fill-opacity="0.9"/>
<circle cx="461.35" cy="464.54" r="0.85" fill="#5f6f8f" fill-opacity="0.9"/>
<circle cx="465.79" cy="435.06" r="0.85" fill="#5f6f8f" fill-opacity="0.9"/>
<circle cx="465.87" cy="411.65" r="0.85" fill="#5f6f8f" fill-opacity="0.9"/>
<circle cx="456.05" cy="410.86" r="0.85" fill="#5f6f8f" fill-opacity="0.9"/>
<circle cx="464.85" cy="433.57" r="0.85" fill="#5f6f8f" fill-opacity="0.9"/>
<circle cx="465.37" cy="443.65" r="0.85" fill="#5f6f8f" fill-opacity="0.9"/>
<circle cx="459.30" cy="452.54" r="0.85" fill="#5f6f8f" fill-opacity="0.9"/>
<circle cx="467.39" cy="421.39" r="0.85" fill="#5f6f8f" fill-opacity="0.9"/>
<circle cx="461.37" cy="463.99" r="0.85" fill="#5f6f8f" fill-opacity="0.9"/>
<circle cx="457.76" cy="446.20" r="0.85" fill="#5f6f8f" fill-opacity="0.9"/>
<circle cx="454.94" cy="434.84" r="0.85" fill="#5f6f8f" fill-opacity="0.9"/>
<circle cx="460.74" cy="464.78" r="0.85" fill="#5f6f8f" fill-opacity="0.9"/>
<circle cx="455.32" cy="413.89" r="0.85" fill="#5f6f8f" fill-opacity="0.9"/>
<circle cx="455.46" cy="416.74" r="0.85" fill="#5f6f8f" fill-opacity="0.9"/>
<circle cx="466.18" cy="421.80" r="0.85" fill="#5f6f8f" fill-opacity="0.9"/>
<circle cx="466.86" cy="439.02" r="0.85" fill="#5f6f8f" fill-opacity="0.9"/>
<circle cx="455.31" cy="412.99" r="0.85" fill="#5f6f8f" fill-opacity="0.9"/>
<circle cx="456.11" cy="447.24" r="0.85" fill="#5f6f8f" fill-opacity="0.9"/>
<circle cx="460.45" cy="464.42" r="0.85" fill="#5f6f8f" fill-opacity="0.9"/>
<circle cx="455.07" cy="422.32" r="0.85" fill="#5f6f8f" fill-opacity="0.9"/>
<circle cx="465.21" cy="415.42" r="0.85" fill="#5f6f8f" fill-opacity="0.9"/>
<circle cx="458.05" cy="458.49" r="0.85" fill="#5f6f8f" fill-opacity="0.9"/>
<circle cx="462.33" cy="453.53" r="0.85" fill="#5f6f8f" fill-opacity="0.9"/>
<circle cx="458.85" cy="459.46" r="0.85" fill="#5f6f8f" fill-opacity="0.9"/>
<circle cx="465.34" cy="416.84" r="0.85" fill="#5f6f8f" fill-opacity="0.9"/>
<circle cx="460.33" cy="459.93" r="0.85" fill="#5f6f8f" fill-opacity="0.9"/>
<circle cx="460.21" cy="465.11" r="0.85" fill="#5f6f8f" fill-opacity="0.9"/>
<circle cx="455.31" cy="438.37" r="0.85" fill="#5f6f8f" fill-opacity="0.9"/>
<circle cx="464.97" cy="444.90" r="0.85" fill="#5f6f8f" fill-opacity="0.9"/>
<circle cx="466.85" cy="410.15" r="0.85" fill="#5f6f8f" fill-opacity="0.9"/>
<circle cx="466.65" cy="408.33" r="0.85" fill="#5f6f8f" fill-opacity="0.9"/>
<circle cx="464.67" cy="438.08" r="0.85" fill="#5f6f8f" fill-opacity="0.9"/>
<circle cx="467.64" cy="415.10" r="0.85" fill="#5f6f8f" fill-opacity="0.9"/>
<circle cx="460.15" cy="461.74" r="0.85" fill="#5f6f8f" fill-opacity="0.9"/>
<circle cx="467.12" cy="411.93" r="0.85" fill="#5f6f8f" fill-opacity="0.9"/>
<circle cx="456.83" cy="448.88" r="0.85" fill="#5f6f8f" fill-opacity="0.9"/>
<circle cx="461.27" cy="463.61" r="0.85" fill="#5f6f8f" fill-opacity="0.9"/>
<circle cx="455.05" cy="438.15" r="0.85" fill="#5f6f8f" fill-opacity="0.9"/>
<circle cx="466.87" cy="423.15" r="0.85" fill="#5f6f8f" fill-opacity="0.9"/>
<circle cx="455.54" cy="424.81" r="0.85" fill="#5f6f8f" fill-opacity="0.9"/>
<circle cx="456.05" cy="435.97" r="0.85" fill="#5f6f8f" fill-opacity="0.9"/>
<circle cx="463.82" cy="447.88" r="0.85" fill="#5f6f8f" fill-opacity="0.9"/>
<circle cx="457.29" cy="455.17" r="0.85" fill="#5f6f8f" fill-opacity="0.9"/>
<circle cx="456.13" cy="443.12" r="0.85" fill="#5f6f8f" fill-opacity="0.9"/>
<circle cx="453.55" cy="419.43" r="0.85" fill="#5f6f8f" fill-opacity="0.9"/>
<circle cx="454.80" cy="414.67" r="0.85" fill="#5f6f8f" fill-opacity="0.9"/>
<circle cx="467.09" cy="412.65" r="0.85" fill="#5f6f8f" fill-opacity="0.9"/>
<circle cx="464.82" cy="444.63" r="0.85" fill="#5f6f8f" fill-opacity="0.9"/>
<circle cx="461.93" cy="461.35" r="0.85" fill="#5f6f8f" fill-opacity="0.9"/>
<circle cx="460.62" cy="463.05" r="0.85" fill="#5f6f8f" fill-opacity="0.9"/>
<circle cx="465.81" cy="417.37" r="0.85" fill="#5f6f8f" fill-opacity="0.9"/>
<circle cx="460.63" cy="464.28" r="0.85" fill="#5f6f8f" fill-opacity="0.9"/>
<circle cx="464.61" cy="442.19" r="0.85" fill="#5f6f8f" fill-opacity="0.9"/>
<circle cx="460.82" cy="458.90" r="0.85" fill="#5f6f8f" fill-opacity="0.9"/>
<circle cx="466.63" cy="413.08" r="0.85" fill="#5f6f8f" fill-opacity="0.9"/>
<circle cx="465.76" cy="425.36" r="0.85" fill="#5f6f8f" fill-opacity="0.9"/>
<circle cx="458.31" cy="455.94" r="0.85" fill="#5f6f8f" fill-opacity="0.9"/>
<circle cx="453.97" cy="414.17" r="0.85" fill="#5f6f8f" fill-opacity="0.9"/>
<circle cx="460.82" cy="460.14" r="0.85" fill="#5f6f8f" fill-opacity="0.9"/>
<circle cx="467.55" cy="440.86" r="0.85" fill="#5f6f8f" fill-opacity="0.9"/>
<circle cx="455.71" cy="440.00" r="0.85" fill="#5f6f8f" fill-opacity="0.9"/>
<circle cx="464.14" cy="446.67" r="0.85" fill="#5f6f8f" fill-opacity="0.9"/>
<circle cx="459.64" cy="458.08" r="0.85" fill="#5f6f8f" fill-opacity="0.9"/>
<circle cx="459.23" cy="461.88" r="0.85" fill="#5f6f8f" fill-opacity="0.9"/>
<circle cx="454.86" cy="425.42" r="0.85" fill="#5f6f8f" fill-opacity="0.9"/>
<circle cx="455.72" cy="428.19" r="0.85" fill="#5f6f8f" fill-opacity="0.9"/>
<circle cx="462.24" cy="461.92" r="0.85" fill="#5f6f8f" fill-opacity="0.9"/>
<circle cx="465.07" cy="441.21" r="0.85" fill="#5f6f8f" fill-opacity="0.9"/>
<circle cx="467.18" cy="417.89" r="0.85" fill="#5f6f8f" fill-opacity="0.9"/>
<circle cx="454.71" cy="424.36" r="0.85" fill="#5f6f8f" fill-opacity="0.9"/>
<circle cx="463.52" cy="458.31" r="0.85" fill="#5f6f8f" fill-opacity="0.9"/>
<circle cx="456.49" cy="437.83" r="0.85" fill="#5f6f8f" fill-opacity="0.9"/>
<circle cx="454.17" cy="410.69" r="0.85" fill="#5f6f8f" fill-opacity="0.9"/>
<circle cx="466.73" cy="419.98" r="0.85" fill="#5f6f8f" fill-opacity="0.9"/>
<circle cx="455.31" cy="437.06" r="0.85" fill="#5f6f8f" fill-opacity="0.9"/>
<circle cx="465.30" cy="426.76" r="0.85" fill="#5f6f8f" fill-opacity="0.9"/>
<circle cx="455.39" cy="439.45" r="0.85" fill="#5f6f8f" fill-opacity="0.9"/>
<circle cx="454.65" cy="434.36" r="0.85" fill="#5f6f8f" fill-opacity="0.9"/>
<circle cx="453.16" cy="421.07" r="0.85" fill="#5f6f8f" fill-opacity="0.9"/>
<circle cx="467.61" cy="426.36" r="0.85" fill="#5f6f8f" fill-opacity="0.9"/>
<circle cx="455.32" cy="436.59" r="0.85" fill="#5f6f8f" fill-opacity="0.9"/>
<circle cx="454.70" cy="416.51" r="0.75" fill="#5f6f8f"/>
<circle cx="446.45" cy="398.69" r="0.75" fill="#5f6f8f"/>
<circle cx="450.94" cy="410.02" r="0.75" fill="#5f6f8f"/>
<circle cx="448.80" cy="398.66" r="0.75" fill="#5f6f8f"/>
<circle cx="450.06" cy="399.11" r="0.75" fill="#5f6f8f"/>
<circle cx="451.92" cy="420.83" r="0.75" fill="#5f6f8f"/>
<circle cx="447.47" cy="412.19" r="0.75" fill="#5f6f8f"/>
<circle cx="453.47" cy="399.93" r="0.75" fill="#5f6f8f"/>
<circle cx="454.26" cy="423.13" r="0.75" fill="#5f6f8f"/>
<circle cx="449.89" cy="407.61" r="0.75" fill="#5f6f8f"/>
<circle cx="454.40" cy="410.77" r="0.75" fill="#5f6f8f"/>
<circle cx="449.96" cy="423.24" r="0.75" fill="#5f6f8f"/>
<circle cx="473.77" cy="390.96" r="0.75" fill="#c03050"/>
<circle cx="468.40" cy="390.76" r="0.75" fill="#c03050"/>
<circle cx="470.36" cy="426.95" r="0.75" fill="#c03050"/>
<circle cx="474.04" cy="423.12" r="0.75" fill="#c03050"/>
<circle cx="474.15" cy="419.47" r="0.75" fill="#c03050"/>
<circle cx="466.54" cy="400.97" r="0.75" fill="#c03050"/>
<circle cx="475.58" cy="424.32" r="0.75" fill="#c03050"/>
<circle cx="468.49" cy="395.64" r="0.75" fill="#c03050"/>
<circle cx="475.22" cy="404.39" r="0.75" fill="#c03050"/>
<circle cx="473.90" cy="394.35" r="0.75" fill="#c03050"/>
<circle cx="472.63" cy="409.16" r="0.75" fill="#c03050"/>
<circle cx="467.27" cy="396.74" r="0.75" fill="#c03050"/>
<circle cx="479.61" cy="418.40" r="0.75" fill="#c03050"/>
<circle cx="479.18" cy="413.53" r="0.75" fill="#c03050"/>
<circle cx="477.52" cy="422.07" r="0.75" fill="#c03050"/>
<circle cx="478.50" cy="393.17" r="0.75" fill="#c03050"/>
<line x1="433.00" y1="274.90" x2="433.00" y2="277.00" stroke="#5a72a8" stroke-width="0.6"/>
<circle cx="433.00" cy="277.00" r="0.8" fill="#3a5590"/>
<line x1="432.00" y1="288.10" x2="432.00" y2="286.00" stroke="#5a72a8" stroke-width="0.6"/>
<circle cx="432.00" cy="286.00" r="0.8" fill="#3a5590"/>
<line x1="434.00" y1="319.20" x2="434.00" y2="321.00" stroke="#5a72a8" stroke-width="0.6"/>
<circle cx="434.00" cy="321.00" r="0.8" fill="#3a5590"/>
<line x1="436.50" y1="342.00" x2="441.00" y2="340.00" stroke="#5a72a8" stroke-width="0.6"/>
<circle cx="441.00" cy="340.00" r="0.8" fill="#3a5590"/>
<line x1="448.00" y1="337.20" x2="446.00" y2="340.00" stroke="#5a72a8" stroke-width="0.6"/>
<circle cx="446.00" cy="340.00" r="0.8" fill="#3a5590"/>
<line x1="438.00" y1="356.20" x2="439.00" y2="360.00" stroke="#5a72a8" stroke-width="0.6"/>
<circle cx="439.00" cy="360.00" r="0.8" fill="#3a5590"/>
<line x1="501.50" y1="294.00" x2="503.00" y2="294.00" stroke="#c63a60" stroke-width="0.6"/>
<circle cx="503.00" cy="294.00" r="0.8" fill="#b02040"/>
<line x1="497.00" y1="329.60" x2="497.00" y2="328.00" stroke="#c63a60" stroke-width="0.6"/>
<circle cx="497.00" cy="328.00" r="0.8" fill="#b02040"/>
<line x1="478.00" y1="345.00" x2="482.00" y2="348.00" stroke="#c63a60" stroke-width="0.6"/>
<circle cx="482.00" cy="348.00" r="0.8" fill="#b02040"/>
<line x1="473.00" y1="348.80" x2="470.00" y2="352.00" stroke="#c63a60" stroke-width="0.6"/>
<circle cx="470.00" cy="352.00" r="0.8" fill="#b02040"/>
<line x1="470.00" y1="360.30" x2="468.00" y2="363.00" stroke="#c63a60" stroke-width="0.6"/>
<circle cx="468.00" cy="363.00" r="0.8" fill="#b02040"/>
<line x1="468.80" y1="364.00" x2="473.00" y2="368.00" stroke="#c63a60" stroke-width="0.6"/>
<circle cx="473.00" cy="368.00" r="0.8" fill="#b02040"/>
<line x1="481.20" y1="366.00" x2="477.00" y2="371.00" stroke="#c63a60" stroke-width="0.6"/>
<circle cx="477.00" cy="371.00" r="0.8" fill="#b02040"/>
<line x1="475.00" y1="378.50" x2="476.00" y2="382.00" stroke="#c63a60" stroke-width="0.6"/>
<circle cx="476.00" cy="382.00" r="0.8" fill="#b02040"/>
<line x1="481.00" y1="389.50" x2="483.00" y2="392.00" stroke="#c63a60" stroke-width="0.6"/>
<circle cx="483.00" cy="392.00" r="0.8" fill="#b02040"/>
<line x1="484.00" y1="405.70" x2="480.00" y2="412.00" stroke="#c63a60" stroke-width="0.6"/>
<circle cx="480.00" cy="412.00" r="0.8" fill="#b02040"/>
<line x1="441.00" y1="371.10" x2="444.00" y2="373.00" stroke="#5a72a8" stroke-width="0.6"/>
<circle cx="444.00" cy="373.00" r="0.8" fill="#3a5590"/>
<line x1="441.00" y1="380.00" x2="447.00" y2="384.00" stroke="#5a72a8" stroke-width="0.6"/>
<circle cx="447.00" cy="384.00" r="0.8" fill="#3a5590"/>
<line x1="445.00" y1="391.00" x2="448.00" y2="395.00" stroke="#5a72a8" stroke-width="0.6"/>
<circle cx="448.00" cy="395.00" r="0.8" fill="#3a5590"/>
<line x1="441.50" y1="381.00" x2="449.00" y2="396.00" stroke="#5a72a8" stroke-width="0.6"/>
<circle cx="449.00" cy="396.00" r="0.8" fill="#3a5590"/>
<line x1="445.00" y1="391.00" x2="450.00" y2="398.00" stroke="#5a72a8" stroke-width="0.6"/>
<circle cx="450.00" cy="398.00" r="0.8" fill="#3a5590"/>
<line x1="448.90" y1="402.00" x2="451.00" y2="404.00" stroke="#5a72a8" stroke-width="0.6"/>
<circle cx="451.00" cy="404.00" r="0.8" fill="#3a5590"/>
<line x1="439.70" y1="412.00" x2="449.00" y2="406.00" stroke="#5a72a8" stroke-width="0.6"/>
<circle cx="449.00" cy="406.00" r="0.8" fill="#3a5590"/>
<line x1="447.00" y1="415.40" x2="450.00" y2="407.00" stroke="#5a72a8" stroke-width="0.6"/>
<circle cx="450.00" cy="407.00" r="0.8" fill="#3a5590"/>
<line x1="443.00" y1="425.80" x2="451.00" y2="410.00" stroke="#5a72a8" stroke-width="0.6"/>
<circle cx="451.00" cy="410.00" r="0.8" fill="#3a5590"/>
<line x1="432.30" y1="391.00" x2="448.00" y2="400.00" stroke="#5a72a8" stroke-width="0.6"/>
<circle cx="448.00" cy="400.00" r="0.8" fill="#3a5590"/>
<line x1="455.40" y1="372.00" x2="452.00" y2="392.00" stroke="#5a72a8" stroke-width="0.6"/>
<circle cx="452.00" cy="392.00" r="0.8" fill="#3a5590"/>
<line x1="447.30" y1="386.00" x2="450.00" y2="394.00" stroke="#5a72a8" stroke-width="0.6"/>
<circle cx="450.00" cy="394.00" r="0.8" fill="#3a5590"/>
<line x1="462.80" y1="386.00" x2="455.00" y2="394.00" stroke="#5a72a8" stroke-width="0.6"/>
<circle cx="455.00" cy="394.00" r="0.8" fill="#3a5590"/>
<rect x="427.70" y="268.50" width="15.70" height="6.40" fill="none" stroke="#5a72a8" stroke-width="0.75" rx="1.2"/>
<text x="435.55" y="273.30" font-size="4.6" fill="#3f5a92" text-anchor="middle" textLength="12.90" lengthAdjust="spacingAndGlyphs">CXCL12</text>
<rect x="423.80" y="288.10" width="12.70" height="6.90" fill="none" stroke="#5a72a8" stroke-width="0.75" rx="1.2"/>
<text x="430.15" y="293.15" font-size="4.6" fill="#3f5a92" text-anchor="middle" textLength="9.90" lengthAdjust="spacingAndGlyphs">CTSG</text>
<rect x="424.70" y="312.80" width="14.10" height="6.40" fill="none" stroke="#5a72a8" stroke-width="0.75" rx="1.2"/>
<text x="431.75" y="317.60" font-size="4.6" fill="#3f5a92" text-anchor="middle" textLength="11.30" lengthAdjust="spacingAndGlyphs">ELANE</text>
<rect x="439.20" y="330.30" width="12.00" height="6.90" fill="none" stroke="#5a72a8" stroke-width="0.75" rx="1.2"/>
<text x="445.20" y="335.35" font-size="4.6" fill="#3f5a92" text-anchor="middle" textLength="9.20" lengthAdjust="spacingAndGlyphs">CTSC</text>
<rect x="418.50" y="338.90" width="18.00" height="6.90" fill="none" stroke="#5a72a8" stroke-width="0.75" rx="1.2"/>
<text x="427.50" y="343.95" font-size="4.6" fill="#3f5a92" text-anchor="middle" textLength="15.20" lengthAdjust="spacingAndGlyphs">CLEC12A</text>
<rect x="443.40" y="344.20" width="17.10" height="6.90" fill="none" stroke="#5a72a8" stroke-width="0.75" rx="1.2"/>
<text x="451.95" y="349.25" font-size="4.6" fill="#3f5a92" text-anchor="middle" textLength="14.30" lengthAdjust="spacingAndGlyphs">SEMA4A</text>
<rect x="429.50" y="349.70" width="12.00" height="6.50" fill="none" stroke="#5a72a8" stroke-width="0.75" rx="1.2"/>
<text x="435.50" y="354.55" font-size="4.6" fill="#3f5a92" text-anchor="middle" textLength="9.20" lengthAdjust="spacingAndGlyphs">CST7</text>
<rect x="447.80" y="357.30" width="8.00" height="6.90" fill="none" stroke="#5a72a8" stroke-width="0.75" rx="1.2"/>
<text x="451.80" y="362.35" font-size="4.6" fill="#3f5a92" text-anchor="middle" textLength="5.20" lengthAdjust="spacingAndGlyphs">LOX</text>
<rect x="427.20" y="364.20" width="14.30" height="6.90" fill="none" stroke="#5a72a8" stroke-width="0.75" rx="1.2"/>
<text x="434.35" y="369.25" font-size="4.6" fill="#3f5a92" text-anchor="middle" textLength="11.50" lengthAdjust="spacingAndGlyphs">PLOD3</text>
<rect x="444.30" y="368.80" width="11.10" height="6.20" fill="none" stroke="#5a72a8" stroke-width="0.75" rx="1.2"/>
<text x="449.85" y="373.50" font-size="4.6" fill="#3f5a92" text-anchor="middle" textLength="8.30" lengthAdjust="spacingAndGlyphs">CTSS</text>
<rect x="455.40" y="372.00" width="10.40" height="6.50" fill="none" stroke="#5a72a8" stroke-width="0.75" rx="1.2"/>
<text x="460.60" y="376.85" font-size="4.6" fill="#3f5a92" text-anchor="middle" textLength="7.60" lengthAdjust="spacingAndGlyphs">SPC4</text>
<rect x="427.20" y="377.30" width="14.30" height="6.90" fill="none" stroke="#5a72a8" stroke-width="0.75" rx="1.2"/>
<text x="434.35" y="382.35" font-size="4.6" fill="#3f5a92" text-anchor="middle" textLength="11.50" lengthAdjust="spacingAndGlyphs">PLOD2</text>
<rect x="447.30" y="381.90" width="15.50" height="6.30" fill="none" stroke="#5a72a8" stroke-width="0.75" rx="1.2"/>
<text x="455.05" y="386.65" font-size="4.6" fill="#3f5a92" text-anchor="middle" textLength="12.70" lengthAdjust="spacingAndGlyphs">LGALS3</text>
<rect x="421.20" y="387.70" width="11.10" height="6.90" fill="none" stroke="#5a72a8" stroke-width="0.75" rx="1.2"/>
<text x="426.75" y="392.75" font-size="4.6" fill="#3f5a92" text-anchor="middle" textLength="8.30" lengthAdjust="spacingAndGlyphs">CTSK</text>
<rect x="434.60" y="387.70" width="10.40" height="6.90" fill="none" stroke="#5a72a8" stroke-width="0.75" rx="1.2"/>
<text x="439.80" y="392.75" font-size="4.6" fill="#3f5a92" text-anchor="middle" textLength="7.60" lengthAdjust="spacingAndGlyphs">SLPI</text>
<rect x="460.50" y="388.20" width="13.80" height="6.40" fill="none" stroke="#5a72a8" stroke-width="0.75" rx="1.2"/>
<text x="467.40" y="393.00" font-size="4.6" fill="#3f5a92" text-anchor="middle" textLength="11.00" lengthAdjust="spacingAndGlyphs">ANXA2</text>
<rect x="436.50" y="398.80" width="12.40" height="6.20" fill="none" stroke="#5a72a8" stroke-width="0.75" rx="1.2"/>
<text x="442.70" y="403.50" font-size="4.6" fill="#3f5a92" text-anchor="middle" textLength="9.60" lengthAdjust="spacingAndGlyphs">CTSB</text>
<rect x="449.60" y="398.80" width="19.20" height="6.20" fill="none" stroke="#5a72a8" stroke-width="0.75" rx="1.2"/>
<text x="459.20" y="403.50" font-size="4.6" fill="#3f5a92" text-anchor="middle" textLength="16.40" lengthAdjust="spacingAndGlyphs">C1QTNF5</text>
<rect x="427.20" y="408.90" width="12.50" height="6.50" fill="none" stroke="#5a72a8" stroke-width="0.75" rx="1.2"/>
<text x="433.45" y="413.75" font-size="4.6" fill="#3f5a92" text-anchor="middle" textLength="9.70" lengthAdjust="spacingAndGlyphs">MMP9</text>
<rect x="442.20" y="408.90" width="14.30" height="6.50" fill="none" stroke="#5a72a8" stroke-width="0.75" rx="1.2"/>
<text x="449.35" y="413.75" font-size="4.6" fill="#3f5a92" text-anchor="middle" textLength="11.50" lengthAdjust="spacingAndGlyphs">S100A4</text>
<rect x="459.50" y="408.90" width="20.10" height="6.50" fill="none" stroke="#5a72a8" stroke-width="0.75" rx="1.2"/>
<text x="469.55" y="413.75" font-size="4.6" fill="#3f5a92" text-anchor="middle" textLength="17.30" lengthAdjust="spacingAndGlyphs">SERPING1</text>
<rect x="436.50" y="419.50" width="14.30" height="6.30" fill="none" stroke="#5a72a8" stroke-width="0.75" rx="1.2"/>
<text x="443.65" y="424.25" font-size="4.6" fill="#3f5a92" text-anchor="middle" textLength="11.50" lengthAdjust="spacingAndGlyphs">S100A8</text>
<rect x="490.50" y="291.10" width="11.00" height="6.20" fill="none" stroke="#c63a60" stroke-width="0.75" rx="1.2"/>
<text x="496.00" y="295.80" font-size="4.6" fill="#b8304f" text-anchor="middle" textLength="8.20" lengthAdjust="spacingAndGlyphs">PPBP</text>
<rect x="490.00" y="329.60" width="13.90" height="7.60" fill="none" stroke="#c63a60" stroke-width="0.75" rx="1.2"/>
<text x="496.95" y="335.00" font-size="4.6" fill="#b8304f" text-anchor="middle" textLength="11.10" lengthAdjust="spacingAndGlyphs">CXCL4</text>
<rect x="480.30" y="340.70" width="12.00" height="6.70" fill="none" stroke="#c63a60" stroke-width="0.75" rx="1.2"/>
<text x="486.30" y="345.65" font-size="4.6" fill="#b8304f" text-anchor="middle" textLength="9.20" lengthAdjust="spacingAndGlyphs">CTSE</text>
<rect x="466.90" y="342.30" width="11.10" height="6.50" fill="none" stroke="#c63a60" stroke-width="0.75" rx="1.2"/>
<text x="472.45" y="347.15" font-size="4.6" fill="#b8304f" text-anchor="middle" textLength="8.30" lengthAdjust="spacingAndGlyphs">ITIH3</text>
<rect x="466.90" y="353.90" width="12.30" height="6.40" fill="none" stroke="#c63a60" stroke-width="0.75" rx="1.2"/>
<text x="473.05" y="358.70" font-size="4.6" fill="#b8304f" text-anchor="middle" textLength="9.50" lengthAdjust="spacingAndGlyphs">TIMP4</text>
<rect x="460.50" y="360.80" width="8.30" height="6.40" fill="none" stroke="#c63a60" stroke-width="0.75" rx="1.2"/>
<text x="464.65" y="365.60" font-size="4.6" fill="#b8304f" text-anchor="middle" textLength="5.50" lengthAdjust="spacingAndGlyphs">ACT</text>
<rect x="481.20" y="361.90" width="13.90" height="6.30" fill="none" stroke="#c63a60" stroke-width="0.75" rx="1.2"/>
<text x="488.15" y="366.65" font-size="4.6" fill="#b8304f" text-anchor="middle" textLength="11.10" lengthAdjust="spacingAndGlyphs">TDGF1</text>
<rect x="466.90" y="372.00" width="16.20" height="6.50" fill="none" stroke="#c63a60" stroke-width="0.75" rx="1.2"/>
<text x="475.00" y="376.85" font-size="4.6" fill="#b8304f" text-anchor="middle" textLength="13.40" lengthAdjust="spacingAndGlyphs">LGALS3L</text>
<rect x="477.30" y="383.10" width="8.60" height="6.40" fill="none" stroke="#c63a60" stroke-width="0.75" rx="1.2"/>
<text x="481.60" y="387.90" font-size="4.6" fill="#b8304f" text-anchor="middle" textLength="5.80" lengthAdjust="spacingAndGlyphs">IL1B</text>
<rect x="475.70" y="398.80" width="15.50" height="6.90" fill="none" stroke="#c63a60" stroke-width="0.75" rx="1.2"/>
<text x="483.45" y="403.85" font-size="4.6" fill="#b8304f" text-anchor="middle" textLength="12.70" lengthAdjust="spacingAndGlyphs">S100A1</text>
<rect x="0.5" y="0.5" width="519" height="526" fill="none" stroke="#000" stroke-width="1"/>
</svg>
</body></html>
